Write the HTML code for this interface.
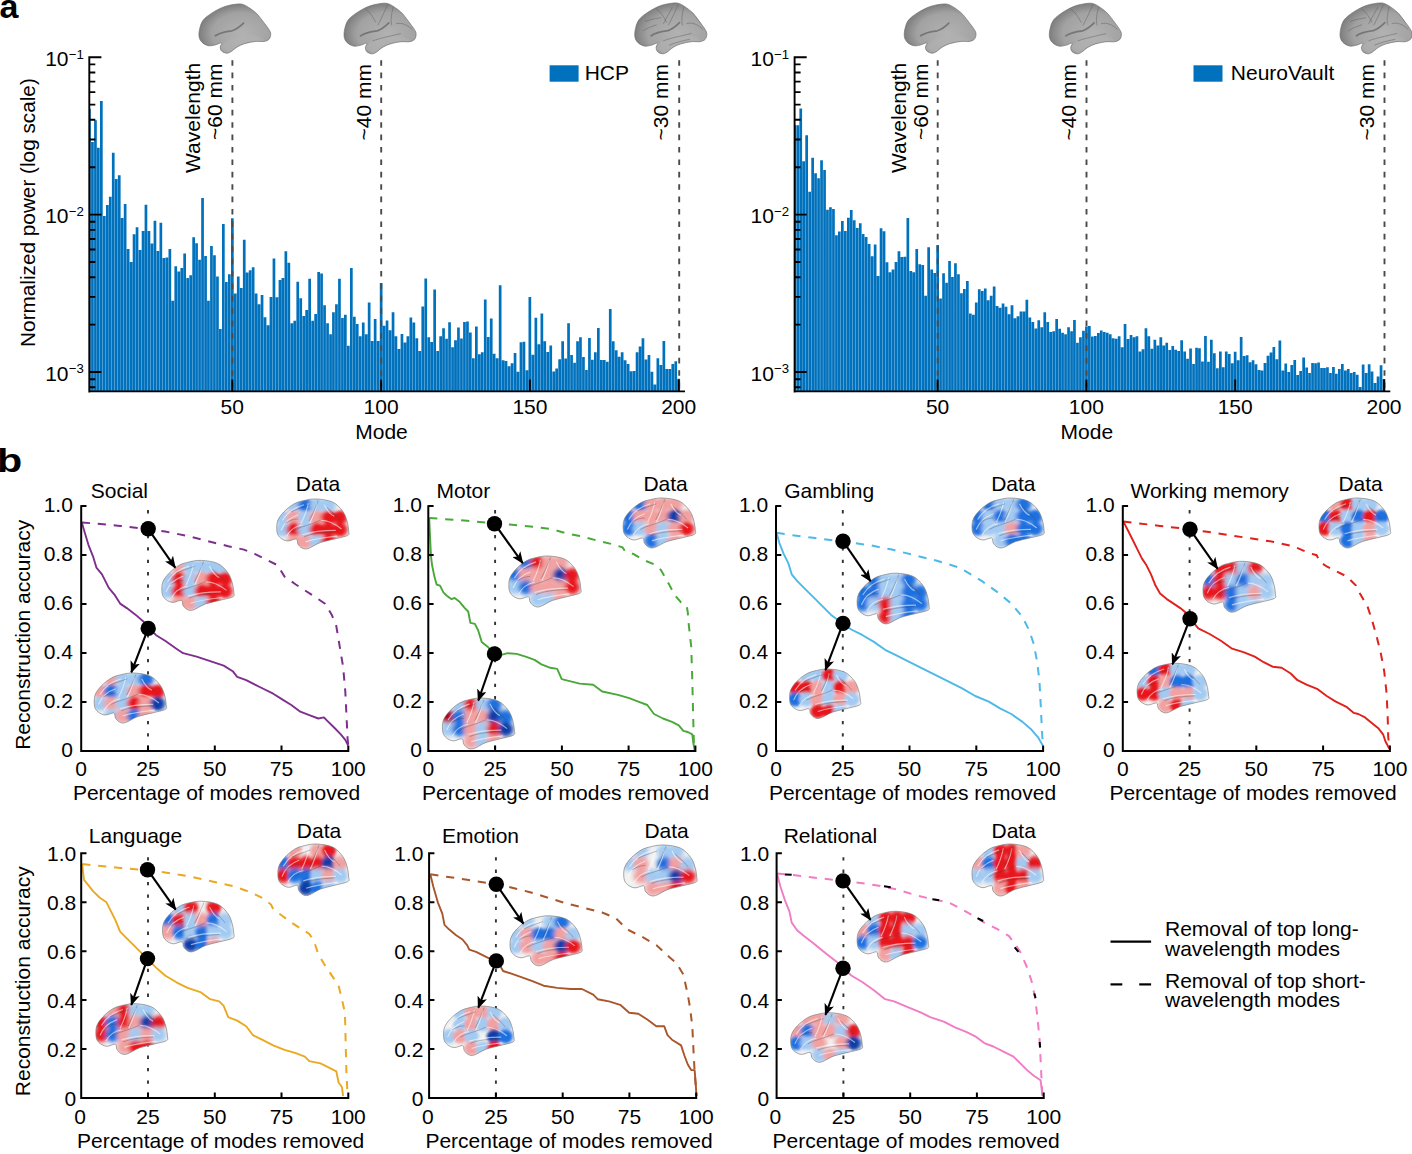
<!DOCTYPE html><html><head><meta charset="utf-8"><style>html,body{margin:0;padding:0;background:#fff;}svg{display:block;}</style></head><body>
<svg width="1412" height="1154" viewBox="0 0 1412 1154" font-family='"Liberation Sans", sans-serif'>
<defs>
<path id="brain" d="M51.2,0C55.9,-0.5 58.4,-1 62.9,1C67.5,3 74.3,8 78.5,11.8C82.7,15.6 85,19.4 88.3,23.7C91.5,28 96.1,34 98,37.5C99.9,41 99.7,42.3 99.5,44.4C99.3,46.5 98.6,48.8 97.1,50.3C95.5,51.8 93.3,52.7 90.2,53.2C87.1,53.7 82.9,52.7 78.5,53.2C74.1,53.7 68.1,54.9 63.9,56.2C59.7,57.5 56.5,59.1 53.2,61.1C50,63.1 46.9,66.5 44.4,68C41.9,69.5 40.6,70.2 38.5,70C36.4,69.8 33.1,68.5 31.7,67C30.2,65.5 29.8,63.1 29.8,61.1C29.8,59.1 32.9,55.7 31.7,55.2C30.5,54.7 26,57.5 22.9,58.2C19.8,58.9 16.3,59.9 13.2,59.2C10.1,58.5 6.5,56.4 4.4,54.2C2.3,52.1 1,49.6 0.5,46.3C0,43 0.5,38.4 1.5,34.5C2.5,30.6 3.5,26.3 6.3,22.7C9.1,19.1 13.3,15.9 18,12.8C22.7,9.7 29.1,6 34.6,3.9C40.1,1.8 46.5,0.5 51.2,0Z"/>
<clipPath id="bclip"><use href="#brain"/></clipPath>
<path id="brainc" d="M54.9,0C61.5,0.3 71.4,1.4 77.5,4.2C83.6,7 88.1,12.4 91.5,16.8C94.9,21.2 96.3,26.1 97.7,30.8C99.1,35.5 99.8,41.4 100,44.8C100.2,48.2 101.9,49.1 98.6,51C95.3,52.9 86.6,54.3 80.3,56C74,57.7 66.7,58.8 60.6,61C54.5,63.2 47.9,68.1 43.7,69.4C39.5,70.7 37.6,69.7 35.2,68.6C32.9,67.5 30.9,65.1 29.6,63C28.3,60.9 29.7,56.7 27.3,56C24.9,55.3 19.1,59 15.5,58.8C11.9,58.6 8.1,56.7 5.6,54.6C3.1,52.5 1.3,50.2 0.6,46.2C-0.1,42.2 -0.2,35.5 1.4,30.8C3,26.1 6.2,22.2 9.9,18.2C13.7,14.2 19.2,9.7 23.9,7C28.6,4.3 32.8,3.4 38,2.2C43.2,1 48.3,-0.3 54.9,0Z"/>
<clipPath id="bcclip"><use href="#brainc"/></clipPath>
<radialGradient id="gray" cx="0.6" cy="0.6" r="0.6"><stop offset="0" stop-color="#b2b2b2"/><stop offset="0.7" stop-color="#a2a2a2"/><stop offset="1" stop-color="#7e7e7e"/></radialGradient>
<filter id="blur" x="-10%" y="-10%" width="120%" height="120%"><feGaussianBlur stdDeviation="1.6"/></filter>
<filter id="blur2" x="-10%" y="-10%" width="120%" height="120%"><feGaussianBlur stdDeviation="2.6"/></filter>
<marker id="ah" viewBox="0 0 12 10" refX="11" refY="5" markerWidth="12" markerHeight="10" markerUnits="userSpaceOnUse" orient="auto"><path d="M0,0 L12,5 L0,10 L3,5 Z" fill="#000"/></marker>
</defs>
<rect width="1412" height="1154" fill="#fff"/>
<text x="-0.5" y="17.8" font-size="34" font-weight="bold">a</text>
<text transform="translate(-3.0,471.6) scale(1.25,1)" font-size="33" font-weight="bold">b</text>
<g transform="translate(0,0)"><path d="M89.3,108.8H90.8V391.4H89.3ZM91.1,141.9H93.8V391.4H91.1ZM94.1,120.2H96.8V391.4H94.1ZM97,147.8H99.7V391.4H97ZM100,101H102.7V391.4H100ZM103,215.9H105.7V391.4H103ZM106,205H108.7V391.4H106ZM108.9,196.7H111.6V391.4H108.9ZM111.9,152.8H114.6V391.4H111.9ZM114.9,178.9H117.6V391.4H114.9ZM117.9,175.3H120.6V391.4H117.9ZM120.8,218H123.5V391.4H120.8ZM123.8,204.1H126.5V391.4H123.8ZM126.8,249.1H129.5V391.4H126.8ZM129.8,262.1H132.5V391.4H129.8ZM132.7,234.3H135.4V391.4H132.7ZM135.7,227.2H138.4V391.4H135.7ZM138.7,250H141.4V391.4H138.7ZM141.7,231H144.4V391.4H141.7ZM144.6,204.7H147.3V391.4H144.6ZM147.6,231H150.3V391.4H147.6ZM150.6,243.5H153.3V391.4H150.6ZM153.6,220.7H156.3V391.4H153.6ZM156.6,250.9H159.2V391.4H156.6ZM159.5,222.7H162.2V391.4H159.5ZM162.5,258H165.2V391.4H162.5ZM165.5,257.4H168.2V391.4H165.5ZM168.5,249.1H171.2V391.4H168.5ZM171.4,300.7H174.1V391.4H171.4ZM174.4,266.3H177.1V391.4H174.4ZM177.4,271.6H180.1V391.4H177.4ZM180.4,268.1H183.1V391.4H180.4ZM183.3,253.6H186V391.4H183.3ZM186.3,278.1H189V391.4H186.3ZM189.3,275.2H192V391.4H189.3ZM192.3,237.3H195V391.4H192.3ZM195.2,243.2H197.9V391.4H195.2ZM198.2,259.8H200.9V391.4H198.2ZM201.2,198.1H203.9V391.4H201.2ZM204.2,256H206.9V391.4H204.2ZM207.1,300.8H209.8V391.4H207.1ZM210.1,246H212.8V391.4H210.1ZM213.1,255.2H215.8V391.4H213.1ZM216.1,276.5H218.8V391.4H216.1ZM219,329.1H221.7V391.4H219ZM222,223.9H224.7V391.4H222ZM225,282.1H227.7V391.4H225ZM228,274.3H230.7V391.4H228ZM231,218.3H233.7V391.4H231ZM233.9,293.5H236.6V391.4H233.9ZM236.9,276.5H239.6V391.4H236.9ZM239.9,288H242.6V391.4H239.9ZM242.9,239.7H245.6V391.4H242.9ZM245.8,272.5H248.5V391.4H245.8ZM248.8,270.3H251.5V391.4H248.8ZM251.8,267.2H254.5V391.4H251.8ZM254.8,293.5H257.5V391.4H254.8ZM257.7,304.2H260.4V391.4H257.7ZM260.7,294.9H263.4V391.4H260.7ZM263.7,317.3H266.4V391.4H263.7ZM266.7,325.2H269.4V391.4H266.7ZM269.6,296.9H272.3V391.4H269.6ZM272.6,258.4H275.3V391.4H272.6ZM275.6,297.2H278.3V391.4H275.6ZM278.6,279.9H281.3V391.4H278.6ZM281.5,278H284.2V391.4H281.5ZM284.5,251.2H287.2V391.4H284.5ZM287.5,262.8H290.2V391.4H287.5ZM290.5,323.2H293.2V391.4H290.5ZM293.4,320.7H296.1V391.4H293.4ZM296.4,281.7H299.1V391.4H296.4ZM299.4,298.2H302.1V391.4H299.4ZM302.4,315.9H305.1V391.4H302.4ZM305.3,310H308.1V391.4H305.3ZM308.3,278.7H311V391.4H308.3ZM311.3,320.7H314V391.4H311.3ZM314.3,314.1H317V391.4H314.3ZM317.3,272.1H320V391.4H317.3ZM320.2,273.6H322.9V391.4H320.2ZM323.2,305.2H325.9V391.4H323.2ZM326.2,323.2H328.9V391.4H326.2ZM329.2,334.2H331.9V391.4H329.2ZM332.1,312.2H334.8V391.4H332.1ZM335.1,304.3H337.8V391.4H335.1ZM338.1,278.7H340.8V391.4H338.1ZM341.1,317.9H343.8V391.4H341.1ZM344,314.8H346.7V391.4H344ZM347,345.7H349.7V391.4H347ZM350,268H352.7V391.4H350ZM353,316.7H355.7V391.4H353ZM355.9,324H358.6V391.4H355.9ZM358.9,336.2H361.6V391.4H358.9ZM361.9,322.6H364.6V391.4H361.9ZM364.9,334.2H367.6V391.4H364.9ZM367.8,302.4H370.5V391.4H367.8ZM370.8,341H373.5V391.4H370.8ZM373.8,319H376.5V391.4H373.8ZM376.8,341H379.5V391.4H376.8ZM379.8,282.9H382.5V391.4H379.8ZM382.7,325.8H385.4V391.4H382.7ZM385.7,320.4H388.4V391.4H385.7ZM388.7,330.2H391.4V391.4H388.7ZM391.7,312.2H394.4V391.4H391.7ZM394.6,336.2H397.3V391.4H394.6ZM397.6,349.1H400.3V391.4H397.6ZM400.6,333.9H403.3V391.4H400.6ZM403.6,342.6H406.3V391.4H403.6ZM406.5,336.2H409.2V391.4H406.5ZM409.5,317.6H412.2V391.4H409.5ZM412.5,322.6H415.2V391.4H412.5ZM415.5,338.2H418.2V391.4H415.5ZM418.4,351H421.1V391.4H418.4ZM421.4,306.6H424.1V391.4H421.4ZM424.4,278.4H427.1V391.4H424.4ZM427.4,337.3H430.1V391.4H427.4ZM430.3,342.1H433V391.4H430.3ZM433.3,289.6H436V391.4H433.3ZM436.3,351.1H439V391.4H436.3ZM439.3,336.2H442V391.4H439.3ZM442.2,328.3H444.9V391.4H442.2ZM445.2,338.8H447.9V391.4H445.2ZM448.2,322.3H450.9V391.4H448.2ZM451.2,347.3H453.9V391.4H451.2ZM454.1,340.3H456.9V391.4H454.1ZM457.1,327.6H459.8V391.4H457.1ZM460.1,338.4H462.8V391.4H460.1ZM463.1,322H465.8V391.4H463.1ZM466.1,321.6H468.8V391.4H466.1ZM469,332.6H471.7V391.4H469ZM472,358.2H474.7V391.4H472ZM475,326.6H477.7V391.4H475ZM478,354.2H480.7V391.4H478ZM480.9,352.3H483.6V391.4H480.9ZM483.9,299.6H486.6V391.4H483.9ZM486.9,337H489.6V391.4H486.9ZM489.9,318.6H492.6V391.4H489.9ZM492.8,353.7H495.5V391.4H492.8ZM495.8,358.2H498.5V391.4H495.8ZM498.8,285.2H501.5V391.4H498.8ZM501.8,360.2H504.5V391.4H501.8ZM504.7,361H507.4V391.4H504.7ZM507.7,366.2H510.4V391.4H507.7ZM510.7,363.2H513.4V391.4H510.7ZM513.7,352.9H516.4V391.4H513.7ZM516.6,371.7H519.3V391.4H516.6ZM519.6,342.3H522.3V391.4H519.6ZM522.6,341.8H525.3V391.4H522.6ZM525.6,370.2H528.3V391.4H525.6ZM528.5,296.9H531.2V391.4H528.5ZM531.5,354.7H534.2V391.4H531.5ZM534.5,317.7H537.2V391.4H534.5ZM537.5,344.3H540.2V391.4H537.5ZM540.5,313.6H543.2V391.4H540.5ZM543.4,341.3H546.1V391.4H543.4ZM546.4,352.1H549.1V391.4H546.4ZM549.4,345.5H552.1V391.4H549.4ZM552.4,371.4H555.1V391.4H552.4ZM555.3,368.4H558V391.4H555.3ZM558.3,359.2H561V391.4H558.3ZM561.3,341.2H564V391.4H561.3ZM564.3,358.6H567V391.4H564.3ZM567.2,323.2H569.9V391.4H567.2ZM570.2,355.1H572.9V391.4H570.2ZM573.2,362.7H575.9V391.4H573.2ZM576.2,341.2H578.9V391.4H576.2ZM579.1,337.2H581.8V391.4H579.1ZM582.1,357H584.8V391.4H582.1ZM585.1,370.1H587.8V391.4H585.1ZM588.1,338H590.8V391.4H588.1ZM591,359.8H593.7V391.4H591ZM594,352.2H596.7V391.4H594ZM597,328H599.7V391.4H597ZM600,360.1H602.7V391.4H600ZM602.9,360.1H605.6V391.4H602.9ZM605.9,361.8H608.6V391.4H605.9ZM608.9,309.1H611.6V391.4H608.9ZM611.9,341.2H614.6V391.4H611.9ZM614.9,350.3H617.6V391.4H614.9ZM617.8,356.7H620.5V391.4H617.8ZM620.8,352.2H623.5V391.4H620.8ZM623.8,360.3H626.5V391.4H623.8ZM626.8,363.9H629.5V391.4H626.8ZM629.7,371.3H632.4V391.4H629.7ZM632.7,371H635.4V391.4H632.7ZM635.7,352.2H638.4V391.4H635.7ZM638.7,346.5H641.4V391.4H638.7ZM641.6,338.3H644.3V391.4H641.6ZM644.6,359.6H647.3V391.4H644.6ZM647.6,355.1H650.3V391.4H647.6ZM650.6,371.7H653.3V391.4H650.6ZM653.5,384.4H656.2V391.4H653.5ZM656.5,358.2H659.2V391.4H656.5ZM659.5,365.1H662.2V391.4H659.5ZM662.5,341H665.2V391.4H662.5ZM665.4,369.1H668.1V391.4H665.4ZM668.4,369.1H671.1V391.4H668.4ZM671.4,363.9H674.1V391.4H671.4ZM674.4,361.2H677.1V391.4H674.4ZM677.4,378.7H680.1V391.4H677.4Z" fill="#0071bc"/><line x1="232.4" y1="60.2" x2="232.4" y2="391.4" stroke="#4a4a4a" stroke-width="1.9" stroke-dasharray="5.6 6.8"/><line x1="381.2" y1="60.2" x2="381.2" y2="391.4" stroke="#4a4a4a" stroke-width="1.9" stroke-dasharray="5.6 6.8"/><line x1="679.2" y1="60.2" x2="679.2" y2="391.4" stroke="#4a4a4a" stroke-width="1.9" stroke-dasharray="5.6 6.8"/><path d="M89.3,56.3V392.4M88.4,391.4H685M89.3,57.2H101.4M89.3,214.6H101.4M89.3,372H101.4M89.3,167.2H95.3M89.3,139.5H95.3M89.3,119.8H95.3M89.3,104.6H95.3M89.3,92.1H95.3M89.3,81.6H95.3M89.3,72.5H95.3M89.3,64.4H95.3M89.3,324.6H95.3M89.3,296.9H95.3M89.3,277.2H95.3M89.3,262H95.3M89.3,249.5H95.3M89.3,239H95.3M89.3,229.9H95.3M89.3,221.8H95.3M89.3,387.3H95.3M89.3,379.2H95.3M232.3,391.4V379.4M381.1,391.4V379.4M529.9,391.4V379.4M678.7,391.4V379.4" stroke="#000" stroke-width="1.9" fill="none"/><text x="45.2" y="65.8" font-size="21">10<tspan dx="0.2" dy="-7.2" font-size="13.2">−1</tspan></text><text x="45.2" y="223.2" font-size="21">10<tspan dx="0.2" dy="-7.2" font-size="13.2">−2</tspan></text><text x="45.2" y="380.6" font-size="21">10<tspan dx="0.2" dy="-7.2" font-size="13.2">−3</tspan></text><text x="232.3" y="413.8" font-size="21" text-anchor="middle">50</text><text x="381.1" y="413.8" font-size="21" text-anchor="middle">100</text><text x="529.9" y="413.8" font-size="21" text-anchor="middle">150</text><text x="678.7" y="413.8" font-size="21" text-anchor="middle">200</text><text x="381.5" y="438.7" font-size="21" text-anchor="middle">Mode</text><text transform="translate(200.2,62.8) rotate(-90)" font-size="21" text-anchor="end">Wavelength</text><text transform="translate(222.3,63.6) rotate(-90)" font-size="21" text-anchor="end">~60 mm</text><text transform="translate(370.8,64) rotate(-90)" font-size="21" text-anchor="end">~40 mm</text><text transform="translate(668.2,64) rotate(-90)" font-size="21" text-anchor="end">~30 mm</text><rect x="549.6" y="65.3" width="29" height="16.4" fill="#0071bc"/><text x="629" y="80" font-size="21" text-anchor="end">HCP</text><g transform="translate(198.7,4.2) scale(0.7230,0.7000)"><use href="#brain" fill="url(#gray)"/><g clip-path="url(#bclip)"><path d="M30,62 C36,50 50,46 64,44 C74,43 84,46 92,52 L80,60 C66,62 50,66 40,70 Z" fill="#b4b4b4" opacity="0.55" filter="url(#blur)"/><path d="M23,45 C30,40 38,39 46,38 C53,36 58,31 62,27" fill="none" stroke="#666" stroke-width="2.4" opacity="0.75" stroke-linecap="round"/></g><use href="#brain" fill="none" stroke="#6a6a6a" stroke-width="0.9"/></g><g transform="translate(343.8,3.5) scale(0.7260,0.7186)"><use href="#brain" fill="url(#gray)"/><g clip-path="url(#bclip)"><path d="M30,62 C36,50 50,46 64,44 C74,43 84,46 92,52 L80,60 C66,62 50,66 40,70 Z" fill="#b4b4b4" opacity="0.55" filter="url(#blur)"/><path d="M23,45 C30,40 38,39 46,38 C53,36 58,31 62,27" fill="none" stroke="#666" stroke-width="2.4" opacity="0.75" stroke-linecap="round"/><path d="M60,2 C56,12 52,20 47,30" fill="none" stroke="#666" stroke-width="1.3" opacity="0.55" stroke-linecap="round"/><path d="M68,5 C66,14 64,22 66,30" fill="none" stroke="#666" stroke-width="1.3" opacity="0.55" stroke-linecap="round"/><path d="M30,8 C36,12 40,18 44,26" fill="none" stroke="#666" stroke-width="1.3" opacity="0.55" stroke-linecap="round"/><path d="M72,28 C80,26 88,30 94,36" fill="none" stroke="#666" stroke-width="1.3" opacity="0.55" stroke-linecap="round"/><path d="M40,52 C50,48 62,46 78,42" fill="none" stroke="#666" stroke-width="1.3" opacity="0.55" stroke-linecap="round"/></g><use href="#brain" fill="none" stroke="#6a6a6a" stroke-width="0.9"/></g><g transform="translate(634.5,3.2) scale(0.7260,0.7229)"><use href="#brain" fill="url(#gray)"/><g clip-path="url(#bclip)"><path d="M30,62 C36,50 50,46 64,44 C74,43 84,46 92,52 L80,60 C66,62 50,66 40,70 Z" fill="#b4b4b4" opacity="0.55" filter="url(#blur)"/><path d="M23,45 C30,40 38,39 46,38 C53,36 58,31 62,27" fill="none" stroke="#666" stroke-width="2.4" opacity="0.75" stroke-linecap="round"/><path d="M60,2 C56,12 52,20 47,30" fill="none" stroke="#666" stroke-width="1.3" opacity="0.55" stroke-linecap="round"/><path d="M68,5 C66,14 64,22 66,30" fill="none" stroke="#666" stroke-width="1.3" opacity="0.55" stroke-linecap="round"/><path d="M30,8 C36,12 40,18 44,26" fill="none" stroke="#666" stroke-width="1.3" opacity="0.55" stroke-linecap="round"/><path d="M72,28 C80,26 88,30 94,36" fill="none" stroke="#666" stroke-width="1.3" opacity="0.55" stroke-linecap="round"/><path d="M40,52 C50,48 62,46 78,42" fill="none" stroke="#666" stroke-width="1.3" opacity="0.55" stroke-linecap="round"/><path d="M15,25 C22,22 28,22 36,20" fill="none" stroke="#666" stroke-width="1.3" opacity="0.55" stroke-linecap="round"/><path d="M12,38 C18,34 24,32 30,30" fill="none" stroke="#666" stroke-width="1.3" opacity="0.55" stroke-linecap="round"/><path d="M78,10 C82,16 86,20 90,26" fill="none" stroke="#666" stroke-width="1.3" opacity="0.55" stroke-linecap="round"/><path d="M48,58 C58,54 66,52 76,50" fill="none" stroke="#666" stroke-width="1.3" opacity="0.55" stroke-linecap="round"/><path d="M52,6 C48,14 44,20 40,28" fill="none" stroke="#666" stroke-width="1.3" opacity="0.55" stroke-linecap="round"/></g><use href="#brain" fill="none" stroke="#6a6a6a" stroke-width="0.9"/></g></g>
<g transform="translate(705.3,0)"><path d="M89.3,125H90.8V391.4H89.3ZM91.1,125.2H93.8V391.4H91.1ZM94.1,108.4H96.8V391.4H94.1ZM97,161.3H99.7V391.4H97ZM100,135.2H102.7V391.4H100ZM103,191.8H105.7V391.4H103ZM106,157.7H108.7V391.4H106ZM108.9,173.3H111.6V391.4H108.9ZM111.9,178.2H114.6V391.4H111.9ZM114.9,160.2H117.6V391.4H114.9ZM117.9,170.1H120.6V391.4H117.9ZM120.8,209.7H123.5V391.4H120.8ZM123.8,207.3H126.5V391.4H123.8ZM126.8,209H129.5V391.4H126.8ZM129.8,235.3H132.5V391.4H129.8ZM132.7,231.6H135.4V391.4H132.7ZM135.7,220.9H138.4V391.4H135.7ZM138.7,230.9H141.4V391.4H138.7ZM141.7,217.7H144.4V391.4H141.7ZM144.6,210.1H147.3V391.4H144.6ZM147.6,220.2H150.3V391.4H147.6ZM150.6,228.1H153.3V391.4H150.6ZM153.6,223.2H156.3V391.4H153.6ZM156.6,234.1H159.2V391.4H156.6ZM159.5,237.1H162.2V391.4H159.5ZM162.5,244.1H165.2V391.4H162.5ZM165.5,256.2H168.2V391.4H165.5ZM168.5,244.5H171.2V391.4H168.5ZM171.4,276H174.1V391.4H171.4ZM174.4,228.2H177.1V391.4H174.4ZM177.4,231.3H180.1V391.4H177.4ZM180.4,262.2H183.1V391.4H180.4ZM183.3,272.2H186V391.4H183.3ZM186.3,269.5H189V391.4H186.3ZM189.3,262H192V391.4H189.3ZM192.3,251.3H195V391.4H192.3ZM195.2,257.1H197.9V391.4H195.2ZM198.2,256.8H200.9V391.4H198.2ZM201.2,218.1H203.9V391.4H201.2ZM204.2,271.1H206.9V391.4H204.2ZM207.1,272.2H209.8V391.4H207.1ZM210.1,249H212.8V391.4H210.1ZM213.1,264.3H215.8V391.4H213.1ZM216.1,265.1H218.8V391.4H216.1ZM219,295.8H221.7V391.4H219ZM222,247.2H224.7V391.4H222ZM225,269.5H227.7V391.4H225ZM228,272.9H230.7V391.4H228ZM231,245.1H233.7V391.4H231ZM233.9,298.6H236.6V391.4H233.9ZM236.9,273.2H239.6V391.4H236.9ZM239.9,282.8H242.6V391.4H239.9ZM242.9,261.1H245.6V391.4H242.9ZM245.8,277H248.5V391.4H245.8ZM248.8,263.2H251.5V391.4H248.8ZM251.8,274.2H254.5V391.4H251.8ZM254.8,293.2H257.5V391.4H254.8ZM257.7,289H260.4V391.4H257.7ZM260.7,280.9H263.4V391.4H260.7ZM263.7,313.4H266.4V391.4H263.7ZM266.7,314.7H269.4V391.4H266.7ZM269.6,302.6H272.3V391.4H269.6ZM272.6,289.3H275.3V391.4H272.6ZM275.6,291H278.3V391.4H275.6ZM278.6,288.4H281.3V391.4H278.6ZM281.5,300.2H284.2V391.4H281.5ZM284.5,295.8H287.2V391.4H284.5ZM287.5,286.6H290.2V391.4H287.5ZM290.5,306H293.2V391.4H290.5ZM293.4,307.8H296.1V391.4H293.4ZM296.4,303.4H299.1V391.4H296.4ZM299.4,306.7H302.1V391.4H299.4ZM302.4,314.3H305.1V391.4H302.4ZM305.3,305.3H308.1V391.4H305.3ZM308.3,318.3H311V391.4H308.3ZM311.3,316.2H314V391.4H311.3ZM314.3,311.6H317V391.4H314.3ZM317.3,311.4H320V391.4H317.3ZM320.2,299.8H322.9V391.4H320.2ZM323.2,317.4H325.9V391.4H323.2ZM326.2,322.1H328.9V391.4H326.2ZM329.2,328.4H331.9V391.4H329.2ZM332.1,320.3H334.8V391.4H332.1ZM335.1,327.2H337.8V391.4H335.1ZM338.1,312.3H340.8V391.4H338.1ZM341.1,322.1H343.8V391.4H341.1ZM344,332.1H346.7V391.4H344ZM347,331.2H349.7V391.4H347ZM350,319H352.7V391.4H350ZM353,328.7H355.7V391.4H353ZM355.9,332.8H358.6V391.4H355.9ZM358.9,334.3H361.6V391.4H358.9ZM361.9,327.2H364.6V391.4H361.9ZM364.9,331.2H367.6V391.4H364.9ZM367.8,320H370.5V391.4H367.8ZM370.8,342.8H373.5V391.4H370.8ZM373.8,337.3H376.5V391.4H373.8ZM376.8,330.8H379.5V391.4H376.8ZM379.8,326.6H382.5V391.4H379.8ZM382.7,325.9H385.4V391.4H382.7ZM385.7,336.4H388.4V391.4H385.7ZM388.7,336.1H391.4V391.4H388.7ZM391.7,333.1H394.4V391.4H391.7ZM394.6,330.6H397.3V391.4H394.6ZM397.6,332H400.3V391.4H397.6ZM400.6,332.8H403.3V391.4H400.6ZM403.6,334.2H406.3V391.4H403.6ZM406.5,338.3H409.2V391.4H406.5ZM409.5,338.8H412.2V391.4H409.5ZM412.5,336.3H415.2V391.4H412.5ZM415.5,347.3H418.2V391.4H415.5ZM418.4,324.1H421.1V391.4H418.4ZM421.4,339H424.1V391.4H421.4ZM424.4,335H427.1V391.4H424.4ZM427.4,337.2H430.1V391.4H427.4ZM430.3,336.3H433V391.4H430.3ZM433.3,351.4H436V391.4H433.3ZM436.3,349.2H439V391.4H436.3ZM439.3,328.2H442V391.4H439.3ZM442.2,336.3H444.9V391.4H442.2ZM445.2,348.8H447.9V391.4H445.2ZM448.2,339.7H450.9V391.4H448.2ZM451.2,345.4H453.9V391.4H451.2ZM454.1,337.2H456.9V391.4H454.1ZM457.1,345.4H459.8V391.4H457.1ZM460.1,342.8H462.8V391.4H460.1ZM463.1,350H465.8V391.4H463.1ZM466.1,346.1H468.8V391.4H466.1ZM469,349.7H471.7V391.4H469ZM472,351.1H474.7V391.4H472ZM475,340.2H477.7V391.4H475ZM478,351.4H480.7V391.4H478ZM480.9,358.8H483.6V391.4H480.9ZM483.9,348.6H486.6V391.4H483.9ZM486.9,363.9H489.6V391.4H486.9ZM489.9,347.8H492.6V391.4H489.9ZM492.8,348.3H495.5V391.4H492.8ZM495.8,361.5H498.5V391.4H495.8ZM498.8,335.9H501.5V391.4H498.8ZM501.8,361.7H504.5V391.4H501.8ZM504.7,339.7H507.4V391.4H504.7ZM507.7,353.2H510.4V391.4H507.7ZM510.7,368.3H513.4V391.4H510.7ZM513.7,351.4H516.4V391.4H513.7ZM516.6,367.2H519.3V391.4H516.6ZM519.6,351.4H522.3V391.4H519.6ZM522.6,354.1H525.3V391.4H522.6ZM525.6,363.3H528.3V391.4H525.6ZM528.5,351.7H531.2V391.4H528.5ZM531.5,360.3H534.2V391.4H531.5ZM534.5,337H537.2V391.4H534.5ZM537.5,356.1H540.2V391.4H537.5ZM540.5,355.2H543.2V391.4H540.5ZM543.4,362.2H546.1V391.4H543.4ZM546.4,360.3H549.1V391.4H546.4ZM549.4,364.2H552.1V391.4H549.4ZM552.4,370H555.1V391.4H552.4ZM555.3,370.4H558V391.4H555.3ZM558.3,363.1H561V391.4H558.3ZM561.3,355.8H564V391.4H561.3ZM564.3,352.4H567V391.4H564.3ZM567.2,346.9H569.9V391.4H567.2ZM570.2,359.2H572.9V391.4H570.2ZM573.2,340.5H575.9V391.4H573.2ZM576.2,370.4H578.9V391.4H576.2ZM579.1,363.6H581.8V391.4H579.1ZM582.1,372H584.8V391.4H582.1ZM585.1,365.1H587.8V391.4H585.1ZM588.1,360.1H590.8V391.4H588.1ZM591,375.1H593.7V391.4H591ZM594,370.9H596.7V391.4H594ZM597,357.5H599.7V391.4H597ZM600,367.6H602.7V391.4H600ZM602.9,373.1H605.6V391.4H602.9ZM605.9,362.9H608.6V391.4H605.9ZM608.9,363.3H611.6V391.4H608.9ZM611.9,362.5H614.6V391.4H611.9ZM614.9,368.1H617.6V391.4H614.9ZM617.8,368.1H620.5V391.4H617.8ZM620.8,367.3H623.5V391.4H620.8ZM623.8,372.9H626.5V391.4H623.8ZM626.8,367H629.5V391.4H626.8ZM629.7,373.7H632.4V391.4H629.7ZM632.7,369H635.4V391.4H632.7ZM635.7,364H638.4V391.4H635.7ZM638.7,370.4H641.4V391.4H638.7ZM641.6,368.9H644.3V391.4H641.6ZM644.6,372.9H647.3V391.4H644.6ZM647.6,372H650.3V391.4H647.6ZM650.6,374.8H653.3V391.4H650.6ZM653.5,386.9H656.2V391.4H653.5ZM656.5,364.5H659.2V391.4H656.5ZM659.5,372.9H662.2V391.4H659.5ZM662.5,364.2H665.2V391.4H662.5ZM665.4,371.5H668.1V391.4H665.4ZM668.4,383H671.1V391.4H668.4ZM671.4,376.5H674.1V391.4H671.4ZM674.4,365.3H677.1V391.4H674.4ZM677.4,379H680.1V391.4H677.4Z" fill="#0071bc"/><line x1="232.4" y1="60.2" x2="232.4" y2="391.4" stroke="#4a4a4a" stroke-width="1.9" stroke-dasharray="5.6 6.8"/><line x1="381.2" y1="60.2" x2="381.2" y2="391.4" stroke="#4a4a4a" stroke-width="1.9" stroke-dasharray="5.6 6.8"/><line x1="679.2" y1="60.2" x2="679.2" y2="391.4" stroke="#4a4a4a" stroke-width="1.9" stroke-dasharray="5.6 6.8"/><path d="M89.3,56.3V392.4M88.4,391.4H685M89.3,57.2H101.4M89.3,214.6H101.4M89.3,372H101.4M89.3,167.2H95.3M89.3,139.5H95.3M89.3,119.8H95.3M89.3,104.6H95.3M89.3,92.1H95.3M89.3,81.6H95.3M89.3,72.5H95.3M89.3,64.4H95.3M89.3,324.6H95.3M89.3,296.9H95.3M89.3,277.2H95.3M89.3,262H95.3M89.3,249.5H95.3M89.3,239H95.3M89.3,229.9H95.3M89.3,221.8H95.3M89.3,387.3H95.3M89.3,379.2H95.3M232.3,391.4V379.4M381.1,391.4V379.4M529.9,391.4V379.4M678.7,391.4V379.4" stroke="#000" stroke-width="1.9" fill="none"/><text x="45.2" y="65.8" font-size="21">10<tspan dx="0.2" dy="-7.2" font-size="13.2">−1</tspan></text><text x="45.2" y="223.2" font-size="21">10<tspan dx="0.2" dy="-7.2" font-size="13.2">−2</tspan></text><text x="45.2" y="380.6" font-size="21">10<tspan dx="0.2" dy="-7.2" font-size="13.2">−3</tspan></text><text x="232.3" y="413.8" font-size="21" text-anchor="middle">50</text><text x="381.1" y="413.8" font-size="21" text-anchor="middle">100</text><text x="529.9" y="413.8" font-size="21" text-anchor="middle">150</text><text x="678.7" y="413.8" font-size="21" text-anchor="middle">200</text><text x="381.5" y="438.7" font-size="21" text-anchor="middle">Mode</text><text transform="translate(200.2,62.8) rotate(-90)" font-size="21" text-anchor="end">Wavelength</text><text transform="translate(222.3,63.6) rotate(-90)" font-size="21" text-anchor="end">~60 mm</text><text transform="translate(370.8,64) rotate(-90)" font-size="21" text-anchor="end">~40 mm</text><text transform="translate(668.2,64) rotate(-90)" font-size="21" text-anchor="end">~30 mm</text><rect x="488.2" y="65.3" width="29" height="16.4" fill="#0071bc"/><text x="629" y="80" font-size="21" text-anchor="end">NeuroVault</text><g transform="translate(198.7,4.2) scale(0.7230,0.7000)"><use href="#brain" fill="url(#gray)"/><g clip-path="url(#bclip)"><path d="M30,62 C36,50 50,46 64,44 C74,43 84,46 92,52 L80,60 C66,62 50,66 40,70 Z" fill="#b4b4b4" opacity="0.55" filter="url(#blur)"/><path d="M23,45 C30,40 38,39 46,38 C53,36 58,31 62,27" fill="none" stroke="#666" stroke-width="2.4" opacity="0.75" stroke-linecap="round"/></g><use href="#brain" fill="none" stroke="#6a6a6a" stroke-width="0.9"/></g><g transform="translate(343.8,3.5) scale(0.7260,0.7186)"><use href="#brain" fill="url(#gray)"/><g clip-path="url(#bclip)"><path d="M30,62 C36,50 50,46 64,44 C74,43 84,46 92,52 L80,60 C66,62 50,66 40,70 Z" fill="#b4b4b4" opacity="0.55" filter="url(#blur)"/><path d="M23,45 C30,40 38,39 46,38 C53,36 58,31 62,27" fill="none" stroke="#666" stroke-width="2.4" opacity="0.75" stroke-linecap="round"/><path d="M60,2 C56,12 52,20 47,30" fill="none" stroke="#666" stroke-width="1.3" opacity="0.55" stroke-linecap="round"/><path d="M68,5 C66,14 64,22 66,30" fill="none" stroke="#666" stroke-width="1.3" opacity="0.55" stroke-linecap="round"/><path d="M30,8 C36,12 40,18 44,26" fill="none" stroke="#666" stroke-width="1.3" opacity="0.55" stroke-linecap="round"/><path d="M72,28 C80,26 88,30 94,36" fill="none" stroke="#666" stroke-width="1.3" opacity="0.55" stroke-linecap="round"/><path d="M40,52 C50,48 62,46 78,42" fill="none" stroke="#666" stroke-width="1.3" opacity="0.55" stroke-linecap="round"/></g><use href="#brain" fill="none" stroke="#6a6a6a" stroke-width="0.9"/></g><g transform="translate(634.5,3.2) scale(0.7260,0.7229)"><use href="#brain" fill="url(#gray)"/><g clip-path="url(#bclip)"><path d="M30,62 C36,50 50,46 64,44 C74,43 84,46 92,52 L80,60 C66,62 50,66 40,70 Z" fill="#b4b4b4" opacity="0.55" filter="url(#blur)"/><path d="M23,45 C30,40 38,39 46,38 C53,36 58,31 62,27" fill="none" stroke="#666" stroke-width="2.4" opacity="0.75" stroke-linecap="round"/><path d="M60,2 C56,12 52,20 47,30" fill="none" stroke="#666" stroke-width="1.3" opacity="0.55" stroke-linecap="round"/><path d="M68,5 C66,14 64,22 66,30" fill="none" stroke="#666" stroke-width="1.3" opacity="0.55" stroke-linecap="round"/><path d="M30,8 C36,12 40,18 44,26" fill="none" stroke="#666" stroke-width="1.3" opacity="0.55" stroke-linecap="round"/><path d="M72,28 C80,26 88,30 94,36" fill="none" stroke="#666" stroke-width="1.3" opacity="0.55" stroke-linecap="round"/><path d="M40,52 C50,48 62,46 78,42" fill="none" stroke="#666" stroke-width="1.3" opacity="0.55" stroke-linecap="round"/><path d="M15,25 C22,22 28,22 36,20" fill="none" stroke="#666" stroke-width="1.3" opacity="0.55" stroke-linecap="round"/><path d="M12,38 C18,34 24,32 30,30" fill="none" stroke="#666" stroke-width="1.3" opacity="0.55" stroke-linecap="round"/><path d="M78,10 C82,16 86,20 90,26" fill="none" stroke="#666" stroke-width="1.3" opacity="0.55" stroke-linecap="round"/><path d="M48,58 C58,54 66,52 76,50" fill="none" stroke="#666" stroke-width="1.3" opacity="0.55" stroke-linecap="round"/><path d="M52,6 C48,14 44,20 40,28" fill="none" stroke="#666" stroke-width="1.3" opacity="0.55" stroke-linecap="round"/></g><use href="#brain" fill="none" stroke="#6a6a6a" stroke-width="0.9"/></g></g>
<text transform="translate(34.5,346.9) rotate(-90)" font-size="20.75">Normalized power (log scale)</text>
<line x1="148" y1="510.1" x2="148" y2="751.1" stroke="#333" stroke-width="1.9" stroke-dasharray="3.3 9.1"/><g transform="translate(276.6,499) scale(0.7210,0.7143)"><g clip-path="url(#bcclip)"><rect x="-5" y="-5" width="110" height="80" fill="#f2f2f2"/><g filter="url(#blur2)"><ellipse cx="24" cy="9" rx="10.5" ry="10" fill="#a2caf2"/><ellipse cx="40" cy="9" rx="10.5" ry="10" fill="#1c6fe0"/><ellipse cx="56" cy="9" rx="10.5" ry="10" fill="#a2caf2"/><ellipse cx="72" cy="9" rx="10.5" ry="10" fill="#a2caf2"/><ellipse cx="8" cy="26" rx="10.5" ry="10" fill="#a2caf2"/><ellipse cx="24" cy="26" rx="10.5" ry="10" fill="#f2a0a0"/><ellipse cx="40" cy="26" rx="10.5" ry="10" fill="#a2caf2"/><ellipse cx="56" cy="26" rx="10.5" ry="10" fill="#f2a0a0"/><ellipse cx="72" cy="26" rx="10.5" ry="10" fill="#e8141e"/><ellipse cx="88" cy="26" rx="10.5" ry="10" fill="#e8141e"/><ellipse cx="8" cy="43" rx="10.5" ry="10" fill="#a2caf2"/><ellipse cx="24" cy="43" rx="10.5" ry="10" fill="#e8141e"/><ellipse cx="40" cy="43" rx="10.5" ry="10" fill="#a2caf2"/><ellipse cx="56" cy="43" rx="10.5" ry="10" fill="#e8141e"/><ellipse cx="72" cy="43" rx="10.5" ry="10" fill="#e8141e"/><ellipse cx="88" cy="43" rx="10.5" ry="10" fill="#e8141e"/><ellipse cx="24" cy="60" rx="10.5" ry="10" fill="#f2a0a0"/><ellipse cx="40" cy="60" rx="10.5" ry="10" fill="#f2a0a0"/><ellipse cx="56" cy="60" rx="10.5" ry="10" fill="#a2caf2"/><ellipse cx="72" cy="60" rx="10.5" ry="10" fill="#e8141e"/></g><path d="M8,30 C14,20 24,12 38,8" fill="none" stroke="#fff" stroke-width="1.6" opacity="0.55"/><path d="M6,44 C10,34 18,26 30,22" fill="none" stroke="#fff" stroke-width="1.6" opacity="0.55"/><path d="M14,52 C18,44 26,38 36,36" fill="none" stroke="#fff" stroke-width="1.6" opacity="0.55"/><path d="M44,6 C42,16 38,26 34,34" fill="none" stroke="#fff" stroke-width="1.6" opacity="0.55"/><path d="M56,6 C54,16 50,26 46,34" fill="none" stroke="#fff" stroke-width="1.6" opacity="0.55"/><path d="M66,8 C70,16 74,22 80,24" fill="none" stroke="#fff" stroke-width="1.6" opacity="0.55"/><path d="M62,30 C70,30 80,34 90,42" fill="none" stroke="#fff" stroke-width="1.6" opacity="0.55"/><path d="M36,50 C48,46 62,44 82,44" fill="none" stroke="#fff" stroke-width="1.6" opacity="0.55"/><path d="M40,60 C52,56 66,54 84,52" fill="none" stroke="#fff" stroke-width="1.6" opacity="0.55"/><path d="M24,44 C34,38 46,37 60,30" fill="none" stroke="#444" stroke-width="0.9" opacity="0.5"/><path d="M58,2 C54,12 50,22 45,31" fill="none" stroke="#444" stroke-width="0.9" opacity="0.5"/><path d="M38,53 C50,48 62,47 80,46" fill="none" stroke="#444" stroke-width="0.9" opacity="0.5"/><path d="M20,18 C28,14 36,12 46,8" fill="none" stroke="#444" stroke-width="0.9" opacity="0.5"/><path d="M70,12 C76,18 82,22 88,30" fill="none" stroke="#444" stroke-width="0.9" opacity="0.5"/><path d="M12,34 C18,30 24,28 30,28" fill="none" stroke="#444" stroke-width="0.9" opacity="0.5"/></g><use href="#brainc" fill="none" stroke="#777" stroke-width="0.9"/></g><g transform="translate(161.7,560.4) scale(0.7210,0.7143)"><g clip-path="url(#bcclip)"><rect x="-5" y="-5" width="110" height="80" fill="#f2f2f2"/><g filter="url(#blur2)"><ellipse cx="24" cy="9" rx="10.5" ry="10" fill="#f2a0a0"/><ellipse cx="40" cy="9" rx="10.5" ry="10" fill="#a2caf2"/><ellipse cx="56" cy="9" rx="10.5" ry="10" fill="#a2caf2"/><ellipse cx="72" cy="9" rx="10.5" ry="10" fill="#a2caf2"/><ellipse cx="88" cy="9" rx="10.5" ry="10" fill="#a2caf2"/><ellipse cx="8" cy="26" rx="10.5" ry="10" fill="#a2caf2"/><ellipse cx="24" cy="26" rx="10.5" ry="10" fill="#e8141e"/><ellipse cx="40" cy="26" rx="10.5" ry="10" fill="#a2caf2"/><ellipse cx="56" cy="26" rx="10.5" ry="10" fill="#f2a0a0"/><ellipse cx="72" cy="26" rx="10.5" ry="10" fill="#e8141e"/><ellipse cx="88" cy="26" rx="10.5" ry="10" fill="#e8141e"/><ellipse cx="8" cy="43" rx="10.5" ry="10" fill="#a2caf2"/><ellipse cx="24" cy="43" rx="10.5" ry="10" fill="#e8141e"/><ellipse cx="40" cy="43" rx="10.5" ry="10" fill="#a2caf2"/><ellipse cx="56" cy="43" rx="10.5" ry="10" fill="#e8141e"/><ellipse cx="72" cy="43" rx="10.5" ry="10" fill="#e8141e"/><ellipse cx="88" cy="43" rx="10.5" ry="10" fill="#e8141e"/><ellipse cx="24" cy="60" rx="10.5" ry="10" fill="#f2a0a0"/><ellipse cx="40" cy="60" rx="10.5" ry="10" fill="#f2a0a0"/><ellipse cx="56" cy="60" rx="10.5" ry="10" fill="#a2caf2"/><ellipse cx="72" cy="60" rx="10.5" ry="10" fill="#e8141e"/></g><path d="M8,30 C14,20 24,12 38,8" fill="none" stroke="#fff" stroke-width="1.6" opacity="0.55"/><path d="M6,44 C10,34 18,26 30,22" fill="none" stroke="#fff" stroke-width="1.6" opacity="0.55"/><path d="M14,52 C18,44 26,38 36,36" fill="none" stroke="#fff" stroke-width="1.6" opacity="0.55"/><path d="M44,6 C42,16 38,26 34,34" fill="none" stroke="#fff" stroke-width="1.6" opacity="0.55"/><path d="M56,6 C54,16 50,26 46,34" fill="none" stroke="#fff" stroke-width="1.6" opacity="0.55"/><path d="M66,8 C70,16 74,22 80,24" fill="none" stroke="#fff" stroke-width="1.6" opacity="0.55"/><path d="M62,30 C70,30 80,34 90,42" fill="none" stroke="#fff" stroke-width="1.6" opacity="0.55"/><path d="M36,50 C48,46 62,44 82,44" fill="none" stroke="#fff" stroke-width="1.6" opacity="0.55"/><path d="M40,60 C52,56 66,54 84,52" fill="none" stroke="#fff" stroke-width="1.6" opacity="0.55"/><path d="M24,44 C34,38 46,37 60,30" fill="none" stroke="#444" stroke-width="0.9" opacity="0.5"/><path d="M58,2 C54,12 50,22 45,31" fill="none" stroke="#444" stroke-width="0.9" opacity="0.5"/><path d="M38,53 C50,48 62,47 80,46" fill="none" stroke="#444" stroke-width="0.9" opacity="0.5"/><path d="M20,18 C28,14 36,12 46,8" fill="none" stroke="#444" stroke-width="0.9" opacity="0.5"/><path d="M70,12 C76,18 82,22 88,30" fill="none" stroke="#444" stroke-width="0.9" opacity="0.5"/><path d="M12,34 C18,30 24,28 30,28" fill="none" stroke="#444" stroke-width="0.9" opacity="0.5"/></g><use href="#brainc" fill="none" stroke="#777" stroke-width="0.9"/></g><g transform="translate(94.1,673) scale(0.7210,0.7143)"><g clip-path="url(#bcclip)"><rect x="-5" y="-5" width="110" height="80" fill="#f2f2f2"/><g filter="url(#blur2)"><ellipse cx="24" cy="9" rx="10.5" ry="10" fill="#f2a0a0"/><ellipse cx="40" cy="9" rx="10.5" ry="10" fill="#a2caf2"/><ellipse cx="56" cy="9" rx="10.5" ry="10" fill="#a2caf2"/><ellipse cx="72" cy="9" rx="10.5" ry="10" fill="#1c6fe0"/><ellipse cx="8" cy="26" rx="10.5" ry="10" fill="#f2a0a0"/><ellipse cx="24" cy="26" rx="10.5" ry="10" fill="#1c6fe0"/><ellipse cx="40" cy="26" rx="10.5" ry="10" fill="#a2caf2"/><ellipse cx="56" cy="26" rx="10.5" ry="10" fill="#f2a0a0"/><ellipse cx="72" cy="26" rx="10.5" ry="10" fill="#e8141e"/><ellipse cx="88" cy="26" rx="10.5" ry="10" fill="#e8141e"/><ellipse cx="8" cy="43" rx="10.5" ry="10" fill="#a2caf2"/><ellipse cx="24" cy="43" rx="10.5" ry="10" fill="#f2a0a0"/><ellipse cx="40" cy="43" rx="10.5" ry="10" fill="#a2caf2"/><ellipse cx="56" cy="43" rx="10.5" ry="10" fill="#e8141e"/><ellipse cx="72" cy="43" rx="10.5" ry="10" fill="#f2a0a0"/><ellipse cx="88" cy="43" rx="10.5" ry="10" fill="#0a3ea8"/><ellipse cx="24" cy="60" rx="10.5" ry="10" fill="#a2caf2"/><ellipse cx="40" cy="60" rx="10.5" ry="10" fill="#f2a0a0"/><ellipse cx="56" cy="60" rx="10.5" ry="10" fill="#1c6fe0"/><ellipse cx="72" cy="60" rx="10.5" ry="10" fill="#f2a0a0"/></g><path d="M8,30 C14,20 24,12 38,8" fill="none" stroke="#fff" stroke-width="1.6" opacity="0.55"/><path d="M6,44 C10,34 18,26 30,22" fill="none" stroke="#fff" stroke-width="1.6" opacity="0.55"/><path d="M14,52 C18,44 26,38 36,36" fill="none" stroke="#fff" stroke-width="1.6" opacity="0.55"/><path d="M44,6 C42,16 38,26 34,34" fill="none" stroke="#fff" stroke-width="1.6" opacity="0.55"/><path d="M56,6 C54,16 50,26 46,34" fill="none" stroke="#fff" stroke-width="1.6" opacity="0.55"/><path d="M66,8 C70,16 74,22 80,24" fill="none" stroke="#fff" stroke-width="1.6" opacity="0.55"/><path d="M62,30 C70,30 80,34 90,42" fill="none" stroke="#fff" stroke-width="1.6" opacity="0.55"/><path d="M36,50 C48,46 62,44 82,44" fill="none" stroke="#fff" stroke-width="1.6" opacity="0.55"/><path d="M40,60 C52,56 66,54 84,52" fill="none" stroke="#fff" stroke-width="1.6" opacity="0.55"/><path d="M24,44 C34,38 46,37 60,30" fill="none" stroke="#444" stroke-width="0.9" opacity="0.5"/><path d="M58,2 C54,12 50,22 45,31" fill="none" stroke="#444" stroke-width="0.9" opacity="0.5"/><path d="M38,53 C50,48 62,47 80,46" fill="none" stroke="#444" stroke-width="0.9" opacity="0.5"/><path d="M20,18 C28,14 36,12 46,8" fill="none" stroke="#444" stroke-width="0.9" opacity="0.5"/><path d="M70,12 C76,18 82,22 88,30" fill="none" stroke="#444" stroke-width="0.9" opacity="0.5"/><path d="M12,34 C18,30 24,28 30,28" fill="none" stroke="#444" stroke-width="0.9" opacity="0.5"/></g><use href="#brainc" fill="none" stroke="#777" stroke-width="0.9"/></g><polyline points="81.8,522.5 85.1,533.8 88.5,545.1 93,556.3 96.4,567.6 102,574.3 105.4,581.1 108.8,587.9 114.4,594.6 120.1,603.6 126.8,608.1 135.8,614.9 144.8,622.8 149.3,628.4 156.1,635.2 165.1,640.8 176.4,648.7 183.1,653.2 196.6,656.6 210.2,661.1 223.7,665.6 232.7,671.2 237.2,676.8 246.2,680.2 259.7,687 273.2,693.7 282.2,699.4 291.3,705 300.3,711.7 309.3,715.1 318.3,718.5 323.9,717.4 327.3,720.8 334.1,727.5 340.8,734.3 345.3,739.9 348.2,745.5" fill="none" stroke="#7e2f8e" stroke-width="1.9" stroke-linejoin="round"/><polyline points="81.8,522.5 97.5,523.7 120.1,525.9 140.3,528.2 165.1,531.5 187.6,536 210.2,541.7 228.2,546.2 243.9,549.6 255.2,554.1 266.5,559.7 277.7,565.3 284.5,576.6 295.8,584.5 311.5,594.6 325,603.6 331.8,614.9 336.3,626.1 339.7,646.4 343.1,666.7 345.3,691.5 346.4,714 347.6,738.8 348.2,745.5" fill="none" stroke="#7e2f8e" stroke-width="2" stroke-dasharray="8.2 7.8"/><path d="M81.2,505.2V752.1M80.2,751.1H349.3M81.2,751.1H86.5M81.2,702.1H86.5M81.2,653.1H86.5M81.2,604.1H86.5M81.2,555.1H86.5M81.2,506.1H86.5M81.2,751.1V745.6M148,751.1V745.6M214.8,751.1V745.6M281.5,751.1V745.6M348.3,751.1V745.6" stroke="#000" stroke-width="2" fill="none"/><text x="72.9" y="757.2" font-size="21" text-anchor="end">0</text><text x="72.9" y="708.2" font-size="21" text-anchor="end">0.2</text><text x="72.9" y="659.2" font-size="21" text-anchor="end">0.4</text><text x="72.9" y="610.2" font-size="21" text-anchor="end">0.6</text><text x="72.9" y="561.2" font-size="21" text-anchor="end">0.8</text><text x="72.9" y="512.2" font-size="21" text-anchor="end">1.0</text><text x="81.2" y="775.9" font-size="21" text-anchor="middle">0</text><text x="148" y="775.9" font-size="21" text-anchor="middle">25</text><text x="214.8" y="775.9" font-size="21" text-anchor="middle">50</text><text x="281.5" y="775.9" font-size="21" text-anchor="middle">75</text><text x="348.3" y="775.9" font-size="21" text-anchor="middle">100</text><text x="216.5" y="799.7" font-size="21" text-anchor="middle">Percentage of modes removed</text><text x="90.8" y="497.5" font-size="21">Social</text><text x="295.8" y="490.9" font-size="21">Data</text><line x1="148.2" y1="528.8" x2="175.2" y2="567.6" stroke="#000" stroke-width="2.1" marker-end="url(#ah)"/><circle cx="148.2" cy="528.8" r="7.7" fill="#000"/><line x1="148.2" y1="628.4" x2="131.3" y2="672.3" stroke="#000" stroke-width="2.1" marker-end="url(#ah)"/><circle cx="148.2" cy="628.4" r="7.7" fill="#000"/>
<line x1="495.1" y1="510.1" x2="495.1" y2="751.1" stroke="#333" stroke-width="1.9" stroke-dasharray="3.3 9.1"/><g transform="translate(623,498) scale(0.7230,0.7143)"><g clip-path="url(#bcclip)"><rect x="-5" y="-5" width="110" height="80" fill="#f2f2f2"/><g filter="url(#blur2)"><ellipse cx="24" cy="9" rx="10.5" ry="10" fill="#1c6fe0"/><ellipse cx="40" cy="9" rx="10.5" ry="10" fill="#f2a0a0"/><ellipse cx="56" cy="9" rx="10.5" ry="10" fill="#f2a0a0"/><ellipse cx="72" cy="9" rx="10.5" ry="10" fill="#f2a0a0"/><ellipse cx="8" cy="26" rx="10.5" ry="10" fill="#1c6fe0"/><ellipse cx="24" cy="26" rx="10.5" ry="10" fill="#f2a0a0"/><ellipse cx="40" cy="26" rx="10.5" ry="10" fill="#f2a0a0"/><ellipse cx="56" cy="26" rx="10.5" ry="10" fill="#f2a0a0"/><ellipse cx="72" cy="26" rx="10.5" ry="10" fill="#0a3ea8"/><ellipse cx="88" cy="26" rx="10.5" ry="10" fill="#f2a0a0"/><ellipse cx="8" cy="43" rx="10.5" ry="10" fill="#1c6fe0"/><ellipse cx="24" cy="43" rx="10.5" ry="10" fill="#a2caf2"/><ellipse cx="40" cy="43" rx="10.5" ry="10" fill="#f2a0a0"/><ellipse cx="56" cy="43" rx="10.5" ry="10" fill="#a2caf2"/><ellipse cx="72" cy="43" rx="10.5" ry="10" fill="#f2a0a0"/><ellipse cx="88" cy="43" rx="10.5" ry="10" fill="#e8141e"/><ellipse cx="40" cy="60" rx="10.5" ry="10" fill="#1c6fe0"/><ellipse cx="56" cy="60" rx="10.5" ry="10" fill="#a2caf2"/><ellipse cx="72" cy="60" rx="10.5" ry="10" fill="#f2a0a0"/></g><path d="M8,30 C14,20 24,12 38,8" fill="none" stroke="#fff" stroke-width="1.6" opacity="0.55"/><path d="M6,44 C10,34 18,26 30,22" fill="none" stroke="#fff" stroke-width="1.6" opacity="0.55"/><path d="M14,52 C18,44 26,38 36,36" fill="none" stroke="#fff" stroke-width="1.6" opacity="0.55"/><path d="M44,6 C42,16 38,26 34,34" fill="none" stroke="#fff" stroke-width="1.6" opacity="0.55"/><path d="M56,6 C54,16 50,26 46,34" fill="none" stroke="#fff" stroke-width="1.6" opacity="0.55"/><path d="M66,8 C70,16 74,22 80,24" fill="none" stroke="#fff" stroke-width="1.6" opacity="0.55"/><path d="M62,30 C70,30 80,34 90,42" fill="none" stroke="#fff" stroke-width="1.6" opacity="0.55"/><path d="M36,50 C48,46 62,44 82,44" fill="none" stroke="#fff" stroke-width="1.6" opacity="0.55"/><path d="M40,60 C52,56 66,54 84,52" fill="none" stroke="#fff" stroke-width="1.6" opacity="0.55"/><path d="M24,44 C34,38 46,37 60,30" fill="none" stroke="#444" stroke-width="0.9" opacity="0.5"/><path d="M58,2 C54,12 50,22 45,31" fill="none" stroke="#444" stroke-width="0.9" opacity="0.5"/><path d="M38,53 C50,48 62,47 80,46" fill="none" stroke="#444" stroke-width="0.9" opacity="0.5"/><path d="M20,18 C28,14 36,12 46,8" fill="none" stroke="#444" stroke-width="0.9" opacity="0.5"/><path d="M70,12 C76,18 82,22 88,30" fill="none" stroke="#444" stroke-width="0.9" opacity="0.5"/><path d="M12,34 C18,30 24,28 30,28" fill="none" stroke="#444" stroke-width="0.9" opacity="0.5"/></g><use href="#brainc" fill="none" stroke="#777" stroke-width="0.9"/></g><g transform="translate(508.7,556) scale(0.7210,0.7286)"><g clip-path="url(#bcclip)"><rect x="-5" y="-5" width="110" height="80" fill="#f2f2f2"/><g filter="url(#blur2)"><ellipse cx="24" cy="9" rx="10.5" ry="10" fill="#1c6fe0"/><ellipse cx="40" cy="9" rx="10.5" ry="10" fill="#e8141e"/><ellipse cx="56" cy="9" rx="10.5" ry="10" fill="#f2a0a0"/><ellipse cx="72" cy="9" rx="10.5" ry="10" fill="#f2a0a0"/><ellipse cx="8" cy="26" rx="10.5" ry="10" fill="#1c6fe0"/><ellipse cx="24" cy="26" rx="10.5" ry="10" fill="#f2a0a0"/><ellipse cx="40" cy="26" rx="10.5" ry="10" fill="#f2a0a0"/><ellipse cx="56" cy="26" rx="10.5" ry="10" fill="#f2a0a0"/><ellipse cx="72" cy="26" rx="10.5" ry="10" fill="#0a3ea8"/><ellipse cx="88" cy="26" rx="10.5" ry="10" fill="#e8141e"/><ellipse cx="8" cy="43" rx="10.5" ry="10" fill="#a2caf2"/><ellipse cx="24" cy="43" rx="10.5" ry="10" fill="#1c6fe0"/><ellipse cx="40" cy="43" rx="10.5" ry="10" fill="#f2a0a0"/><ellipse cx="56" cy="43" rx="10.5" ry="10" fill="#f2a0a0"/><ellipse cx="72" cy="43" rx="10.5" ry="10" fill="#f2a0a0"/><ellipse cx="88" cy="43" rx="10.5" ry="10" fill="#e8141e"/><ellipse cx="40" cy="60" rx="10.5" ry="10" fill="#a2caf2"/><ellipse cx="56" cy="60" rx="10.5" ry="10" fill="#a2caf2"/><ellipse cx="72" cy="60" rx="10.5" ry="10" fill="#f2a0a0"/></g><path d="M8,30 C14,20 24,12 38,8" fill="none" stroke="#fff" stroke-width="1.6" opacity="0.55"/><path d="M6,44 C10,34 18,26 30,22" fill="none" stroke="#fff" stroke-width="1.6" opacity="0.55"/><path d="M14,52 C18,44 26,38 36,36" fill="none" stroke="#fff" stroke-width="1.6" opacity="0.55"/><path d="M44,6 C42,16 38,26 34,34" fill="none" stroke="#fff" stroke-width="1.6" opacity="0.55"/><path d="M56,6 C54,16 50,26 46,34" fill="none" stroke="#fff" stroke-width="1.6" opacity="0.55"/><path d="M66,8 C70,16 74,22 80,24" fill="none" stroke="#fff" stroke-width="1.6" opacity="0.55"/><path d="M62,30 C70,30 80,34 90,42" fill="none" stroke="#fff" stroke-width="1.6" opacity="0.55"/><path d="M36,50 C48,46 62,44 82,44" fill="none" stroke="#fff" stroke-width="1.6" opacity="0.55"/><path d="M40,60 C52,56 66,54 84,52" fill="none" stroke="#fff" stroke-width="1.6" opacity="0.55"/><path d="M24,44 C34,38 46,37 60,30" fill="none" stroke="#444" stroke-width="0.9" opacity="0.5"/><path d="M58,2 C54,12 50,22 45,31" fill="none" stroke="#444" stroke-width="0.9" opacity="0.5"/><path d="M38,53 C50,48 62,47 80,46" fill="none" stroke="#444" stroke-width="0.9" opacity="0.5"/><path d="M20,18 C28,14 36,12 46,8" fill="none" stroke="#444" stroke-width="0.9" opacity="0.5"/><path d="M70,12 C76,18 82,22 88,30" fill="none" stroke="#444" stroke-width="0.9" opacity="0.5"/><path d="M12,34 C18,30 24,28 30,28" fill="none" stroke="#444" stroke-width="0.9" opacity="0.5"/></g><use href="#brainc" fill="none" stroke="#777" stroke-width="0.9"/></g><g transform="translate(442.3,698) scale(0.7210,0.7286)"><g clip-path="url(#bcclip)"><rect x="-5" y="-5" width="110" height="80" fill="#f2f2f2"/><g filter="url(#blur2)"><ellipse cx="24" cy="9" rx="10.5" ry="10" fill="#a2caf2"/><ellipse cx="40" cy="9" rx="10.5" ry="10" fill="#e8141e"/><ellipse cx="56" cy="9" rx="10.5" ry="10" fill="#a2caf2"/><ellipse cx="72" cy="9" rx="10.5" ry="10" fill="#1c6fe0"/><ellipse cx="8" cy="26" rx="10.5" ry="10" fill="#b40012"/><ellipse cx="24" cy="26" rx="10.5" ry="10" fill="#1c6fe0"/><ellipse cx="40" cy="26" rx="10.5" ry="10" fill="#f2a0a0"/><ellipse cx="56" cy="26" rx="10.5" ry="10" fill="#f2a0a0"/><ellipse cx="72" cy="26" rx="10.5" ry="10" fill="#0a3ea8"/><ellipse cx="88" cy="26" rx="10.5" ry="10" fill="#1c6fe0"/><ellipse cx="8" cy="43" rx="10.5" ry="10" fill="#a2caf2"/><ellipse cx="24" cy="43" rx="10.5" ry="10" fill="#1c6fe0"/><ellipse cx="40" cy="43" rx="10.5" ry="10" fill="#f2a0a0"/><ellipse cx="56" cy="43" rx="10.5" ry="10" fill="#a2caf2"/><ellipse cx="72" cy="43" rx="10.5" ry="10" fill="#e8141e"/><ellipse cx="88" cy="43" rx="10.5" ry="10" fill="#0a3ea8"/><ellipse cx="40" cy="60" rx="10.5" ry="10" fill="#f2a0a0"/><ellipse cx="56" cy="60" rx="10.5" ry="10" fill="#a2caf2"/><ellipse cx="72" cy="60" rx="10.5" ry="10" fill="#f2a0a0"/></g><path d="M8,30 C14,20 24,12 38,8" fill="none" stroke="#fff" stroke-width="1.6" opacity="0.55"/><path d="M6,44 C10,34 18,26 30,22" fill="none" stroke="#fff" stroke-width="1.6" opacity="0.55"/><path d="M14,52 C18,44 26,38 36,36" fill="none" stroke="#fff" stroke-width="1.6" opacity="0.55"/><path d="M44,6 C42,16 38,26 34,34" fill="none" stroke="#fff" stroke-width="1.6" opacity="0.55"/><path d="M56,6 C54,16 50,26 46,34" fill="none" stroke="#fff" stroke-width="1.6" opacity="0.55"/><path d="M66,8 C70,16 74,22 80,24" fill="none" stroke="#fff" stroke-width="1.6" opacity="0.55"/><path d="M62,30 C70,30 80,34 90,42" fill="none" stroke="#fff" stroke-width="1.6" opacity="0.55"/><path d="M36,50 C48,46 62,44 82,44" fill="none" stroke="#fff" stroke-width="1.6" opacity="0.55"/><path d="M40,60 C52,56 66,54 84,52" fill="none" stroke="#fff" stroke-width="1.6" opacity="0.55"/><path d="M24,44 C34,38 46,37 60,30" fill="none" stroke="#444" stroke-width="0.9" opacity="0.5"/><path d="M58,2 C54,12 50,22 45,31" fill="none" stroke="#444" stroke-width="0.9" opacity="0.5"/><path d="M38,53 C50,48 62,47 80,46" fill="none" stroke="#444" stroke-width="0.9" opacity="0.5"/><path d="M20,18 C28,14 36,12 46,8" fill="none" stroke="#444" stroke-width="0.9" opacity="0.5"/><path d="M70,12 C76,18 82,22 88,30" fill="none" stroke="#444" stroke-width="0.9" opacity="0.5"/><path d="M12,34 C18,30 24,28 30,28" fill="none" stroke="#444" stroke-width="0.9" opacity="0.5"/></g><use href="#brainc" fill="none" stroke="#777" stroke-width="0.9"/></g><polyline points="429.2,518 429.9,533.8 431,556.3 432.1,565.3 434.4,576.6 436.6,584.5 440,585.6 443.4,592.4 446.8,595.7 451.3,599.1 454.7,598 459.2,601.4 464.8,608.1 468.2,611.5 470.4,622.8 474.9,623.9 478.3,630.7 481.7,641.9 487.3,646.4 494.1,653.2 499.7,655.4 507.6,653.2 516.6,653.9 525.6,656.6 534.6,659.9 541.4,664.4 550.4,667.8 557.2,668.9 561.7,679.1 570.7,681.3 579.7,683.6 593.2,684.7 602.2,691.5 618,694.9 629.2,698.2 638.3,701.6 647.3,705 654,714 663,718.5 672,721.9 678.8,725.3 683.3,730.9 687.8,732 692.3,734.3 693.4,743.3 694.6,750" fill="none" stroke="#4aa83a" stroke-width="1.9" stroke-linejoin="round"/><polyline points="429.2,518 444.5,519.1 467.1,520.7 485.1,522.5 512.1,524.8 534.6,527 552.7,529.3 566.2,533.3 579.7,536 595.5,540.1 611.2,543.9 622.5,547.3 624.7,550.7 633.7,554.1 642.8,559.7 654,564.2 660.8,569.8 665.3,577.7 669.8,585.6 674.3,594.6 681.1,602.5 686.7,605.9 687.8,612.6 688.9,626.1 691.2,646.4 692.3,680.2 693.4,725.3 693.9,743.3 694.6,750" fill="none" stroke="#4aa83a" stroke-width="2" stroke-dasharray="8.2 7.8"/><path d="M428.3,505.2V752.1M427.3,751.1H696.4M428.3,751.1H433.6M428.3,702.1H433.6M428.3,653.1H433.6M428.3,604.1H433.6M428.3,555.1H433.6M428.3,506.1H433.6M428.3,751.1V745.6M495.1,751.1V745.6M561.9,751.1V745.6M628.6,751.1V745.6M695.4,751.1V745.6" stroke="#000" stroke-width="2" fill="none"/><text x="422" y="757.2" font-size="21" text-anchor="end">0</text><text x="422" y="708.2" font-size="21" text-anchor="end">0.2</text><text x="422" y="659.2" font-size="21" text-anchor="end">0.4</text><text x="422" y="610.2" font-size="21" text-anchor="end">0.6</text><text x="422" y="561.2" font-size="21" text-anchor="end">0.8</text><text x="422" y="512.2" font-size="21" text-anchor="end">1.0</text><text x="428.3" y="775.9" font-size="21" text-anchor="middle">0</text><text x="495.1" y="775.9" font-size="21" text-anchor="middle">25</text><text x="561.9" y="775.9" font-size="21" text-anchor="middle">50</text><text x="628.6" y="775.9" font-size="21" text-anchor="middle">75</text><text x="695.4" y="775.9" font-size="21" text-anchor="middle">100</text><text x="565.6" y="799.7" font-size="21" text-anchor="middle">Percentage of modes removed</text><text x="436.6" y="497.5" font-size="21">Motor</text><text x="643.4" y="490.9" font-size="21">Data</text><line x1="494.5" y1="523.7" x2="522.7" y2="563.1" stroke="#000" stroke-width="2.1" marker-end="url(#ah)"/><circle cx="494.5" cy="523.7" r="7.7" fill="#000"/><line x1="494.5" y1="653.9" x2="478.3" y2="700.5" stroke="#000" stroke-width="2.1" marker-end="url(#ah)"/><circle cx="494.5" cy="653.9" r="7.7" fill="#000"/>
<line x1="842.8" y1="510.1" x2="842.8" y2="751.1" stroke="#333" stroke-width="1.9" stroke-dasharray="3.3 9.1"/><g transform="translate(971.9,498) scale(0.7210,0.7143)"><g clip-path="url(#bcclip)"><rect x="-5" y="-5" width="110" height="80" fill="#f2f2f2"/><g filter="url(#blur2)"><ellipse cx="24" cy="9" rx="10.5" ry="10" fill="#1c6fe0"/><ellipse cx="40" cy="9" rx="10.5" ry="10" fill="#a2caf2"/><ellipse cx="56" cy="9" rx="10.5" ry="10" fill="#a2caf2"/><ellipse cx="72" cy="9" rx="10.5" ry="10" fill="#1c6fe0"/><ellipse cx="8" cy="26" rx="10.5" ry="10" fill="#1c6fe0"/><ellipse cx="24" cy="26" rx="10.5" ry="10" fill="#a2caf2"/><ellipse cx="40" cy="26" rx="10.5" ry="10" fill="#1c6fe0"/><ellipse cx="56" cy="26" rx="10.5" ry="10" fill="#a2caf2"/><ellipse cx="72" cy="26" rx="10.5" ry="10" fill="#1c6fe0"/><ellipse cx="88" cy="26" rx="10.5" ry="10" fill="#1c6fe0"/><ellipse cx="8" cy="43" rx="10.5" ry="10" fill="#1c6fe0"/><ellipse cx="24" cy="43" rx="10.5" ry="10" fill="#a2caf2"/><ellipse cx="40" cy="43" rx="10.5" ry="10" fill="#a2caf2"/><ellipse cx="56" cy="43" rx="10.5" ry="10" fill="#f2a0a0"/><ellipse cx="72" cy="43" rx="10.5" ry="10" fill="#1c6fe0"/><ellipse cx="88" cy="43" rx="10.5" ry="10" fill="#1c6fe0"/><ellipse cx="40" cy="60" rx="10.5" ry="10" fill="#a2caf2"/><ellipse cx="56" cy="60" rx="10.5" ry="10" fill="#1c6fe0"/><ellipse cx="72" cy="60" rx="10.5" ry="10" fill="#1c6fe0"/></g><path d="M8,30 C14,20 24,12 38,8" fill="none" stroke="#fff" stroke-width="1.6" opacity="0.55"/><path d="M6,44 C10,34 18,26 30,22" fill="none" stroke="#fff" stroke-width="1.6" opacity="0.55"/><path d="M14,52 C18,44 26,38 36,36" fill="none" stroke="#fff" stroke-width="1.6" opacity="0.55"/><path d="M44,6 C42,16 38,26 34,34" fill="none" stroke="#fff" stroke-width="1.6" opacity="0.55"/><path d="M56,6 C54,16 50,26 46,34" fill="none" stroke="#fff" stroke-width="1.6" opacity="0.55"/><path d="M66,8 C70,16 74,22 80,24" fill="none" stroke="#fff" stroke-width="1.6" opacity="0.55"/><path d="M62,30 C70,30 80,34 90,42" fill="none" stroke="#fff" stroke-width="1.6" opacity="0.55"/><path d="M36,50 C48,46 62,44 82,44" fill="none" stroke="#fff" stroke-width="1.6" opacity="0.55"/><path d="M40,60 C52,56 66,54 84,52" fill="none" stroke="#fff" stroke-width="1.6" opacity="0.55"/><path d="M24,44 C34,38 46,37 60,30" fill="none" stroke="#444" stroke-width="0.9" opacity="0.5"/><path d="M58,2 C54,12 50,22 45,31" fill="none" stroke="#444" stroke-width="0.9" opacity="0.5"/><path d="M38,53 C50,48 62,47 80,46" fill="none" stroke="#444" stroke-width="0.9" opacity="0.5"/><path d="M20,18 C28,14 36,12 46,8" fill="none" stroke="#444" stroke-width="0.9" opacity="0.5"/><path d="M70,12 C76,18 82,22 88,30" fill="none" stroke="#444" stroke-width="0.9" opacity="0.5"/><path d="M12,34 C18,30 24,28 30,28" fill="none" stroke="#444" stroke-width="0.9" opacity="0.5"/></g><use href="#brainc" fill="none" stroke="#777" stroke-width="0.9"/></g><g transform="translate(857,573.2) scale(0.7200,0.7243)"><g clip-path="url(#bcclip)"><rect x="-5" y="-5" width="110" height="80" fill="#f2f2f2"/><g filter="url(#blur2)"><ellipse cx="24" cy="9" rx="10.5" ry="10" fill="#1c6fe0"/><ellipse cx="40" cy="9" rx="10.5" ry="10" fill="#a2caf2"/><ellipse cx="56" cy="9" rx="10.5" ry="10" fill="#a2caf2"/><ellipse cx="72" cy="9" rx="10.5" ry="10" fill="#1c6fe0"/><ellipse cx="8" cy="26" rx="10.5" ry="10" fill="#1c6fe0"/><ellipse cx="24" cy="26" rx="10.5" ry="10" fill="#1c6fe0"/><ellipse cx="40" cy="26" rx="10.5" ry="10" fill="#a2caf2"/><ellipse cx="56" cy="26" rx="10.5" ry="10" fill="#a2caf2"/><ellipse cx="72" cy="26" rx="10.5" ry="10" fill="#1c6fe0"/><ellipse cx="88" cy="26" rx="10.5" ry="10" fill="#1c6fe0"/><ellipse cx="8" cy="43" rx="10.5" ry="10" fill="#1c6fe0"/><ellipse cx="24" cy="43" rx="10.5" ry="10" fill="#a2caf2"/><ellipse cx="40" cy="43" rx="10.5" ry="10" fill="#e8141e"/><ellipse cx="56" cy="43" rx="10.5" ry="10" fill="#a2caf2"/><ellipse cx="72" cy="43" rx="10.5" ry="10" fill="#1c6fe0"/><ellipse cx="88" cy="43" rx="10.5" ry="10" fill="#1c6fe0"/><ellipse cx="40" cy="60" rx="10.5" ry="10" fill="#e8141e"/><ellipse cx="56" cy="60" rx="10.5" ry="10" fill="#a2caf2"/><ellipse cx="72" cy="60" rx="10.5" ry="10" fill="#1c6fe0"/></g><path d="M8,30 C14,20 24,12 38,8" fill="none" stroke="#fff" stroke-width="1.6" opacity="0.55"/><path d="M6,44 C10,34 18,26 30,22" fill="none" stroke="#fff" stroke-width="1.6" opacity="0.55"/><path d="M14,52 C18,44 26,38 36,36" fill="none" stroke="#fff" stroke-width="1.6" opacity="0.55"/><path d="M44,6 C42,16 38,26 34,34" fill="none" stroke="#fff" stroke-width="1.6" opacity="0.55"/><path d="M56,6 C54,16 50,26 46,34" fill="none" stroke="#fff" stroke-width="1.6" opacity="0.55"/><path d="M66,8 C70,16 74,22 80,24" fill="none" stroke="#fff" stroke-width="1.6" opacity="0.55"/><path d="M62,30 C70,30 80,34 90,42" fill="none" stroke="#fff" stroke-width="1.6" opacity="0.55"/><path d="M36,50 C48,46 62,44 82,44" fill="none" stroke="#fff" stroke-width="1.6" opacity="0.55"/><path d="M40,60 C52,56 66,54 84,52" fill="none" stroke="#fff" stroke-width="1.6" opacity="0.55"/><path d="M24,44 C34,38 46,37 60,30" fill="none" stroke="#444" stroke-width="0.9" opacity="0.5"/><path d="M58,2 C54,12 50,22 45,31" fill="none" stroke="#444" stroke-width="0.9" opacity="0.5"/><path d="M38,53 C50,48 62,47 80,46" fill="none" stroke="#444" stroke-width="0.9" opacity="0.5"/><path d="M20,18 C28,14 36,12 46,8" fill="none" stroke="#444" stroke-width="0.9" opacity="0.5"/><path d="M70,12 C76,18 82,22 88,30" fill="none" stroke="#444" stroke-width="0.9" opacity="0.5"/><path d="M12,34 C18,30 24,28 30,28" fill="none" stroke="#444" stroke-width="0.9" opacity="0.5"/></g><use href="#brainc" fill="none" stroke="#777" stroke-width="0.9"/></g><g transform="translate(789.4,669) scale(0.7100,0.7071)"><g clip-path="url(#bcclip)"><rect x="-5" y="-5" width="110" height="80" fill="#f2f2f2"/><g filter="url(#blur2)"><ellipse cx="24" cy="9" rx="10.5" ry="10" fill="#a2caf2"/><ellipse cx="40" cy="9" rx="10.5" ry="10" fill="#a2caf2"/><ellipse cx="56" cy="9" rx="10.5" ry="10" fill="#e8141e"/><ellipse cx="72" cy="9" rx="10.5" ry="10" fill="#a2caf2"/><ellipse cx="8" cy="26" rx="10.5" ry="10" fill="#e8141e"/><ellipse cx="24" cy="26" rx="10.5" ry="10" fill="#e8141e"/><ellipse cx="40" cy="26" rx="10.5" ry="10" fill="#f2a0a0"/><ellipse cx="56" cy="26" rx="10.5" ry="10" fill="#a2caf2"/><ellipse cx="72" cy="26" rx="10.5" ry="10" fill="#e8141e"/><ellipse cx="88" cy="26" rx="10.5" ry="10" fill="#f2a0a0"/><ellipse cx="8" cy="43" rx="10.5" ry="10" fill="#1c6fe0"/><ellipse cx="24" cy="43" rx="10.5" ry="10" fill="#a2caf2"/><ellipse cx="40" cy="43" rx="10.5" ry="10" fill="#f2a0a0"/><ellipse cx="56" cy="43" rx="10.5" ry="10" fill="#a2caf2"/><ellipse cx="72" cy="43" rx="10.5" ry="10" fill="#f2a0a0"/><ellipse cx="88" cy="43" rx="10.5" ry="10" fill="#a2caf2"/><ellipse cx="40" cy="60" rx="10.5" ry="10" fill="#e8141e"/><ellipse cx="56" cy="60" rx="10.5" ry="10" fill="#e8141e"/><ellipse cx="72" cy="60" rx="10.5" ry="10" fill="#a2caf2"/></g><path d="M8,30 C14,20 24,12 38,8" fill="none" stroke="#fff" stroke-width="1.6" opacity="0.55"/><path d="M6,44 C10,34 18,26 30,22" fill="none" stroke="#fff" stroke-width="1.6" opacity="0.55"/><path d="M14,52 C18,44 26,38 36,36" fill="none" stroke="#fff" stroke-width="1.6" opacity="0.55"/><path d="M44,6 C42,16 38,26 34,34" fill="none" stroke="#fff" stroke-width="1.6" opacity="0.55"/><path d="M56,6 C54,16 50,26 46,34" fill="none" stroke="#fff" stroke-width="1.6" opacity="0.55"/><path d="M66,8 C70,16 74,22 80,24" fill="none" stroke="#fff" stroke-width="1.6" opacity="0.55"/><path d="M62,30 C70,30 80,34 90,42" fill="none" stroke="#fff" stroke-width="1.6" opacity="0.55"/><path d="M36,50 C48,46 62,44 82,44" fill="none" stroke="#fff" stroke-width="1.6" opacity="0.55"/><path d="M40,60 C52,56 66,54 84,52" fill="none" stroke="#fff" stroke-width="1.6" opacity="0.55"/><path d="M24,44 C34,38 46,37 60,30" fill="none" stroke="#444" stroke-width="0.9" opacity="0.5"/><path d="M58,2 C54,12 50,22 45,31" fill="none" stroke="#444" stroke-width="0.9" opacity="0.5"/><path d="M38,53 C50,48 62,47 80,46" fill="none" stroke="#444" stroke-width="0.9" opacity="0.5"/><path d="M20,18 C28,14 36,12 46,8" fill="none" stroke="#444" stroke-width="0.9" opacity="0.5"/><path d="M70,12 C76,18 82,22 88,30" fill="none" stroke="#444" stroke-width="0.9" opacity="0.5"/><path d="M12,34 C18,30 24,28 30,28" fill="none" stroke="#444" stroke-width="0.9" opacity="0.5"/></g><use href="#brainc" fill="none" stroke="#777" stroke-width="0.9"/></g><polyline points="776.6,532.7 779.3,542.8 783.8,554.1 788.3,563.1 791.7,574.3 797.3,581.1 804,587.9 813.1,596.9 822.1,605.9 831.1,614.9 840.1,621.6 843,623.9 851.3,629.5 862.6,635.2 873.9,641.9 885.1,649.8 896.4,655.4 907.7,661.1 921.2,667.8 934.7,674.6 948.2,681.3 961.7,688.1 975.2,696 988.8,701.6 1000,708.4 1011.3,714 1022.5,721.9 1031.6,729.8 1038.3,737.7 1042.8,745.5" fill="none" stroke="#4cb9e8" stroke-width="1.9" stroke-linejoin="round"/><polyline points="776.6,532.7 790.5,534.9 813.1,537.8 843,541.7 869.4,545.1 891.9,549.6 914.4,555.2 936.9,560.8 959.5,567.6 982,581.1 997.8,592.4 1011.3,603.6 1022.5,617.1 1029.3,630.7 1033.8,644.2 1037.2,662.2 1039.4,680.2 1040.6,702.7 1041.7,725.3 1042.8,745.5" fill="none" stroke="#4cb9e8" stroke-width="2" stroke-dasharray="8.2 7.8"/><path d="M776,505.2V752.1M775,751.1H1044.1M776,751.1H781.3M776,702.1H781.3M776,653.1H781.3M776,604.1H781.3M776,555.1H781.3M776,506.1H781.3M776,751.1V745.6M842.8,751.1V745.6M909.5,751.1V745.6M976.3,751.1V745.6M1043.1,751.1V745.6" stroke="#000" stroke-width="2" fill="none"/><text x="768.1" y="757.2" font-size="21" text-anchor="end">0</text><text x="768.1" y="708.2" font-size="21" text-anchor="end">0.2</text><text x="768.1" y="659.2" font-size="21" text-anchor="end">0.4</text><text x="768.1" y="610.2" font-size="21" text-anchor="end">0.6</text><text x="768.1" y="561.2" font-size="21" text-anchor="end">0.8</text><text x="768.1" y="512.2" font-size="21" text-anchor="end">1.0</text><text x="776" y="775.9" font-size="21" text-anchor="middle">0</text><text x="842.8" y="775.9" font-size="21" text-anchor="middle">25</text><text x="909.5" y="775.9" font-size="21" text-anchor="middle">50</text><text x="976.3" y="775.9" font-size="21" text-anchor="middle">75</text><text x="1043.1" y="775.9" font-size="21" text-anchor="middle">100</text><text x="912.5" y="799.7" font-size="21" text-anchor="middle">Percentage of modes removed</text><text x="784.2" y="497.5" font-size="21">Gambling</text><text x="991.2" y="490.9" font-size="21">Data</text><line x1="843" y1="541.2" x2="870.5" y2="581.1" stroke="#000" stroke-width="2.1" marker-end="url(#ah)"/><circle cx="843" cy="541.2" r="7.7" fill="#000"/><line x1="843" y1="623.4" x2="825.4" y2="670.1" stroke="#000" stroke-width="2.1" marker-end="url(#ah)"/><circle cx="843" cy="623.4" r="7.7" fill="#000"/>
<line x1="1189.6" y1="510.1" x2="1189.6" y2="751.1" stroke="#333" stroke-width="1.9" stroke-dasharray="3.3 9.1"/><g transform="translate(1318.9,498) scale(0.7140,0.7143)"><g clip-path="url(#bcclip)"><rect x="-5" y="-5" width="110" height="80" fill="#f2f2f2"/><g filter="url(#blur2)"><ellipse cx="24" cy="9" rx="10.5" ry="10" fill="#f2a0a0"/><ellipse cx="40" cy="9" rx="10.5" ry="10" fill="#e8141e"/><ellipse cx="56" cy="9" rx="10.5" ry="10" fill="#a2caf2"/><ellipse cx="72" cy="9" rx="10.5" ry="10" fill="#a2caf2"/><ellipse cx="8" cy="26" rx="10.5" ry="10" fill="#1c6fe0"/><ellipse cx="24" cy="26" rx="10.5" ry="10" fill="#e8141e"/><ellipse cx="40" cy="26" rx="10.5" ry="10" fill="#a2caf2"/><ellipse cx="56" cy="26" rx="10.5" ry="10" fill="#1c6fe0"/><ellipse cx="72" cy="26" rx="10.5" ry="10" fill="#e8141e"/><ellipse cx="88" cy="26" rx="10.5" ry="10" fill="#1c6fe0"/><ellipse cx="8" cy="43" rx="10.5" ry="10" fill="#e8141e"/><ellipse cx="24" cy="43" rx="10.5" ry="10" fill="#a2caf2"/><ellipse cx="40" cy="43" rx="10.5" ry="10" fill="#1c6fe0"/><ellipse cx="56" cy="43" rx="10.5" ry="10" fill="#a2caf2"/><ellipse cx="72" cy="43" rx="10.5" ry="10" fill="#f2a0a0"/><ellipse cx="88" cy="43" rx="10.5" ry="10" fill="#a2caf2"/><ellipse cx="40" cy="60" rx="10.5" ry="10" fill="#1c6fe0"/><ellipse cx="56" cy="60" rx="10.5" ry="10" fill="#a2caf2"/><ellipse cx="72" cy="60" rx="10.5" ry="10" fill="#f2a0a0"/></g><path d="M8,30 C14,20 24,12 38,8" fill="none" stroke="#fff" stroke-width="1.6" opacity="0.55"/><path d="M6,44 C10,34 18,26 30,22" fill="none" stroke="#fff" stroke-width="1.6" opacity="0.55"/><path d="M14,52 C18,44 26,38 36,36" fill="none" stroke="#fff" stroke-width="1.6" opacity="0.55"/><path d="M44,6 C42,16 38,26 34,34" fill="none" stroke="#fff" stroke-width="1.6" opacity="0.55"/><path d="M56,6 C54,16 50,26 46,34" fill="none" stroke="#fff" stroke-width="1.6" opacity="0.55"/><path d="M66,8 C70,16 74,22 80,24" fill="none" stroke="#fff" stroke-width="1.6" opacity="0.55"/><path d="M62,30 C70,30 80,34 90,42" fill="none" stroke="#fff" stroke-width="1.6" opacity="0.55"/><path d="M36,50 C48,46 62,44 82,44" fill="none" stroke="#fff" stroke-width="1.6" opacity="0.55"/><path d="M40,60 C52,56 66,54 84,52" fill="none" stroke="#fff" stroke-width="1.6" opacity="0.55"/><path d="M24,44 C34,38 46,37 60,30" fill="none" stroke="#444" stroke-width="0.9" opacity="0.5"/><path d="M58,2 C54,12 50,22 45,31" fill="none" stroke="#444" stroke-width="0.9" opacity="0.5"/><path d="M38,53 C50,48 62,47 80,46" fill="none" stroke="#444" stroke-width="0.9" opacity="0.5"/><path d="M20,18 C28,14 36,12 46,8" fill="none" stroke="#444" stroke-width="0.9" opacity="0.5"/><path d="M70,12 C76,18 82,22 88,30" fill="none" stroke="#444" stroke-width="0.9" opacity="0.5"/><path d="M12,34 C18,30 24,28 30,28" fill="none" stroke="#444" stroke-width="0.9" opacity="0.5"/></g><use href="#brainc" fill="none" stroke="#777" stroke-width="0.9"/></g><g transform="translate(1202.9,561.3) scale(0.7250,0.7271)"><g clip-path="url(#bcclip)"><rect x="-5" y="-5" width="110" height="80" fill="#f2f2f2"/><g filter="url(#blur2)"><ellipse cx="24" cy="9" rx="10.5" ry="10" fill="#e8141e"/><ellipse cx="40" cy="9" rx="10.5" ry="10" fill="#e8141e"/><ellipse cx="56" cy="9" rx="10.5" ry="10" fill="#a2caf2"/><ellipse cx="72" cy="9" rx="10.5" ry="10" fill="#e8141e"/><ellipse cx="8" cy="26" rx="10.5" ry="10" fill="#1c6fe0"/><ellipse cx="24" cy="26" rx="10.5" ry="10" fill="#e8141e"/><ellipse cx="40" cy="26" rx="10.5" ry="10" fill="#a2caf2"/><ellipse cx="56" cy="26" rx="10.5" ry="10" fill="#1c6fe0"/><ellipse cx="72" cy="26" rx="10.5" ry="10" fill="#a2caf2"/><ellipse cx="88" cy="26" rx="10.5" ry="10" fill="#a2caf2"/><ellipse cx="8" cy="43" rx="10.5" ry="10" fill="#e8141e"/><ellipse cx="24" cy="43" rx="10.5" ry="10" fill="#e8141e"/><ellipse cx="40" cy="43" rx="10.5" ry="10" fill="#1c6fe0"/><ellipse cx="56" cy="43" rx="10.5" ry="10" fill="#a2caf2"/><ellipse cx="72" cy="43" rx="10.5" ry="10" fill="#f2a0a0"/><ellipse cx="88" cy="43" rx="10.5" ry="10" fill="#a2caf2"/><ellipse cx="40" cy="60" rx="10.5" ry="10" fill="#1c6fe0"/><ellipse cx="56" cy="60" rx="10.5" ry="10" fill="#a2caf2"/><ellipse cx="72" cy="60" rx="10.5" ry="10" fill="#a2caf2"/></g><path d="M8,30 C14,20 24,12 38,8" fill="none" stroke="#fff" stroke-width="1.6" opacity="0.55"/><path d="M6,44 C10,34 18,26 30,22" fill="none" stroke="#fff" stroke-width="1.6" opacity="0.55"/><path d="M14,52 C18,44 26,38 36,36" fill="none" stroke="#fff" stroke-width="1.6" opacity="0.55"/><path d="M44,6 C42,16 38,26 34,34" fill="none" stroke="#fff" stroke-width="1.6" opacity="0.55"/><path d="M56,6 C54,16 50,26 46,34" fill="none" stroke="#fff" stroke-width="1.6" opacity="0.55"/><path d="M66,8 C70,16 74,22 80,24" fill="none" stroke="#fff" stroke-width="1.6" opacity="0.55"/><path d="M62,30 C70,30 80,34 90,42" fill="none" stroke="#fff" stroke-width="1.6" opacity="0.55"/><path d="M36,50 C48,46 62,44 82,44" fill="none" stroke="#fff" stroke-width="1.6" opacity="0.55"/><path d="M40,60 C52,56 66,54 84,52" fill="none" stroke="#fff" stroke-width="1.6" opacity="0.55"/><path d="M24,44 C34,38 46,37 60,30" fill="none" stroke="#444" stroke-width="0.9" opacity="0.5"/><path d="M58,2 C54,12 50,22 45,31" fill="none" stroke="#444" stroke-width="0.9" opacity="0.5"/><path d="M38,53 C50,48 62,47 80,46" fill="none" stroke="#444" stroke-width="0.9" opacity="0.5"/><path d="M20,18 C28,14 36,12 46,8" fill="none" stroke="#444" stroke-width="0.9" opacity="0.5"/><path d="M70,12 C76,18 82,22 88,30" fill="none" stroke="#444" stroke-width="0.9" opacity="0.5"/><path d="M12,34 C18,30 24,28 30,28" fill="none" stroke="#444" stroke-width="0.9" opacity="0.5"/></g><use href="#brainc" fill="none" stroke="#777" stroke-width="0.9"/></g><g transform="translate(1137,663.3) scale(0.7150,0.7086)"><g clip-path="url(#bcclip)"><rect x="-5" y="-5" width="110" height="80" fill="#f2f2f2"/><g filter="url(#blur2)"><ellipse cx="24" cy="9" rx="10.5" ry="10" fill="#1c6fe0"/><ellipse cx="40" cy="9" rx="10.5" ry="10" fill="#e8141e"/><ellipse cx="56" cy="9" rx="10.5" ry="10" fill="#a2caf2"/><ellipse cx="72" cy="9" rx="10.5" ry="10" fill="#a2caf2"/><ellipse cx="8" cy="26" rx="10.5" ry="10" fill="#a2caf2"/><ellipse cx="24" cy="26" rx="10.5" ry="10" fill="#e8141e"/><ellipse cx="40" cy="26" rx="10.5" ry="10" fill="#f2a0a0"/><ellipse cx="56" cy="26" rx="10.5" ry="10" fill="#1c6fe0"/><ellipse cx="72" cy="26" rx="10.5" ry="10" fill="#1c6fe0"/><ellipse cx="88" cy="26" rx="10.5" ry="10" fill="#a2caf2"/><ellipse cx="8" cy="43" rx="10.5" ry="10" fill="#e8141e"/><ellipse cx="24" cy="43" rx="10.5" ry="10" fill="#e8141e"/><ellipse cx="40" cy="43" rx="10.5" ry="10" fill="#a2caf2"/><ellipse cx="56" cy="43" rx="10.5" ry="10" fill="#f2a0a0"/><ellipse cx="72" cy="43" rx="10.5" ry="10" fill="#f2a0a0"/><ellipse cx="88" cy="43" rx="10.5" ry="10" fill="#a2caf2"/><ellipse cx="40" cy="60" rx="10.5" ry="10" fill="#f2a0a0"/><ellipse cx="56" cy="60" rx="10.5" ry="10" fill="#e8141e"/><ellipse cx="72" cy="60" rx="10.5" ry="10" fill="#a2caf2"/></g><path d="M8,30 C14,20 24,12 38,8" fill="none" stroke="#fff" stroke-width="1.6" opacity="0.55"/><path d="M6,44 C10,34 18,26 30,22" fill="none" stroke="#fff" stroke-width="1.6" opacity="0.55"/><path d="M14,52 C18,44 26,38 36,36" fill="none" stroke="#fff" stroke-width="1.6" opacity="0.55"/><path d="M44,6 C42,16 38,26 34,34" fill="none" stroke="#fff" stroke-width="1.6" opacity="0.55"/><path d="M56,6 C54,16 50,26 46,34" fill="none" stroke="#fff" stroke-width="1.6" opacity="0.55"/><path d="M66,8 C70,16 74,22 80,24" fill="none" stroke="#fff" stroke-width="1.6" opacity="0.55"/><path d="M62,30 C70,30 80,34 90,42" fill="none" stroke="#fff" stroke-width="1.6" opacity="0.55"/><path d="M36,50 C48,46 62,44 82,44" fill="none" stroke="#fff" stroke-width="1.6" opacity="0.55"/><path d="M40,60 C52,56 66,54 84,52" fill="none" stroke="#fff" stroke-width="1.6" opacity="0.55"/><path d="M24,44 C34,38 46,37 60,30" fill="none" stroke="#444" stroke-width="0.9" opacity="0.5"/><path d="M58,2 C54,12 50,22 45,31" fill="none" stroke="#444" stroke-width="0.9" opacity="0.5"/><path d="M38,53 C50,48 62,47 80,46" fill="none" stroke="#444" stroke-width="0.9" opacity="0.5"/><path d="M20,18 C28,14 36,12 46,8" fill="none" stroke="#444" stroke-width="0.9" opacity="0.5"/><path d="M70,12 C76,18 82,22 88,30" fill="none" stroke="#444" stroke-width="0.9" opacity="0.5"/><path d="M12,34 C18,30 24,28 30,28" fill="none" stroke="#444" stroke-width="0.9" opacity="0.5"/></g><use href="#brainc" fill="none" stroke="#777" stroke-width="0.9"/></g><polyline points="1123.3,521.4 1128.5,531.5 1133,540.5 1137.5,549.6 1142,558.6 1146.5,565.3 1151,574.3 1155.5,585.6 1160.1,593.5 1166.8,599.1 1173.6,603.6 1180.3,608.1 1187.1,613.8 1190,618.3 1198.3,628.4 1209.6,634 1220.9,640.8 1232.1,648.7 1243.4,652.1 1254.7,656.6 1263.7,662.2 1272.7,666.7 1281.7,667.8 1290.7,673.5 1297.5,680.2 1306.5,684.7 1317.7,689.2 1326.7,696 1335.8,701.6 1347,707.2 1353.8,712.9 1358.3,714 1365,717.4 1371.8,723 1378.6,728.6 1383.1,734.3 1385.3,741 1389.4,748.9" fill="none" stroke="#e0201b" stroke-width="1.9" stroke-linejoin="round"/><polyline points="1123.3,521.4 1137.5,523.2 1160.1,525.9 1180.3,528.2 1205.1,531.5 1227.6,534.9 1250.2,538.3 1272.7,541.7 1293,546.2 1308.7,552.9 1316.6,555.2 1320,561.9 1326.7,566.5 1335.8,571 1347,576.6 1356,585.6 1360.5,594.6 1367.3,605.9 1371.8,619.4 1376.3,635.2 1380.8,653.2 1384.2,671.2 1386.4,691.5 1387.6,714 1388.2,736.5 1389.4,748.9" fill="none" stroke="#e0201b" stroke-width="2" stroke-dasharray="8.2 7.8"/><path d="M1122.8,505.2V752.1M1121.8,751.1H1390.9M1122.8,751.1H1128.1M1122.8,702.1H1128.1M1122.8,653.1H1128.1M1122.8,604.1H1128.1M1122.8,555.1H1128.1M1122.8,506.1H1128.1M1122.8,751.1V745.6M1189.6,751.1V745.6M1256.3,751.1V745.6M1323.1,751.1V745.6M1389.9,751.1V745.6" stroke="#000" stroke-width="2" fill="none"/><text x="1114.7" y="757.2" font-size="21" text-anchor="end">0</text><text x="1114.7" y="708.2" font-size="21" text-anchor="end">0.2</text><text x="1114.7" y="659.2" font-size="21" text-anchor="end">0.4</text><text x="1114.7" y="610.2" font-size="21" text-anchor="end">0.6</text><text x="1114.7" y="561.2" font-size="21" text-anchor="end">0.8</text><text x="1114.7" y="512.2" font-size="21" text-anchor="end">1.0</text><text x="1122.8" y="775.9" font-size="21" text-anchor="middle">0</text><text x="1189.6" y="775.9" font-size="21" text-anchor="middle">25</text><text x="1256.3" y="775.9" font-size="21" text-anchor="middle">50</text><text x="1323.1" y="775.9" font-size="21" text-anchor="middle">75</text><text x="1389.9" y="775.9" font-size="21" text-anchor="middle">100</text><text x="1253" y="799.7" font-size="21" text-anchor="middle">Percentage of modes removed</text><text x="1130.5" y="497.5" font-size="21">Working memory</text><text x="1338.4" y="490.9" font-size="21">Data</text><line x1="1190" y1="529.3" x2="1217.5" y2="568.7" stroke="#000" stroke-width="2.1" marker-end="url(#ah)"/><circle cx="1190" cy="529.3" r="7.7" fill="#000"/><line x1="1190" y1="618.7" x2="1172.4" y2="664.4" stroke="#000" stroke-width="2.1" marker-end="url(#ah)"/><circle cx="1190" cy="618.7" r="7.7" fill="#000"/>
<line x1="148" y1="857.2" x2="148" y2="1098.1" stroke="#333" stroke-width="1.9" stroke-dasharray="3.3 9.1"/><g transform="translate(277.7,844) scale(0.7100,0.7371)"><g clip-path="url(#bcclip)"><rect x="-5" y="-5" width="110" height="80" fill="#f2f2f2"/><g filter="url(#blur2)"><ellipse cx="24" cy="9" rx="10.5" ry="10" fill="#f2a0a0"/><ellipse cx="56" cy="9" rx="10.5" ry="10" fill="#f2a0a0"/><ellipse cx="72" cy="9" rx="10.5" ry="10" fill="#e8141e"/><ellipse cx="8" cy="26" rx="10.5" ry="10" fill="#1c6fe0"/><ellipse cx="24" cy="26" rx="10.5" ry="10" fill="#e8141e"/><ellipse cx="40" cy="26" rx="10.5" ry="10" fill="#e8141e"/><ellipse cx="56" cy="26" rx="10.5" ry="10" fill="#e8141e"/><ellipse cx="72" cy="26" rx="10.5" ry="10" fill="#0a3ea8"/><ellipse cx="88" cy="26" rx="10.5" ry="10" fill="#f2a0a0"/><ellipse cx="8" cy="43" rx="10.5" ry="10" fill="#e8141e"/><ellipse cx="24" cy="43" rx="10.5" ry="10" fill="#1c6fe0"/><ellipse cx="40" cy="43" rx="10.5" ry="10" fill="#1c6fe0"/><ellipse cx="56" cy="43" rx="10.5" ry="10" fill="#a2caf2"/><ellipse cx="72" cy="43" rx="10.5" ry="10" fill="#f2a0a0"/><ellipse cx="88" cy="43" rx="10.5" ry="10" fill="#a2caf2"/><ellipse cx="40" cy="60" rx="10.5" ry="10" fill="#0a3ea8"/><ellipse cx="56" cy="60" rx="10.5" ry="10" fill="#1c6fe0"/><ellipse cx="72" cy="60" rx="10.5" ry="10" fill="#a2caf2"/></g><path d="M8,30 C14,20 24,12 38,8" fill="none" stroke="#fff" stroke-width="1.6" opacity="0.55"/><path d="M6,44 C10,34 18,26 30,22" fill="none" stroke="#fff" stroke-width="1.6" opacity="0.55"/><path d="M14,52 C18,44 26,38 36,36" fill="none" stroke="#fff" stroke-width="1.6" opacity="0.55"/><path d="M44,6 C42,16 38,26 34,34" fill="none" stroke="#fff" stroke-width="1.6" opacity="0.55"/><path d="M56,6 C54,16 50,26 46,34" fill="none" stroke="#fff" stroke-width="1.6" opacity="0.55"/><path d="M66,8 C70,16 74,22 80,24" fill="none" stroke="#fff" stroke-width="1.6" opacity="0.55"/><path d="M62,30 C70,30 80,34 90,42" fill="none" stroke="#fff" stroke-width="1.6" opacity="0.55"/><path d="M36,50 C48,46 62,44 82,44" fill="none" stroke="#fff" stroke-width="1.6" opacity="0.55"/><path d="M40,60 C52,56 66,54 84,52" fill="none" stroke="#fff" stroke-width="1.6" opacity="0.55"/><path d="M24,44 C34,38 46,37 60,30" fill="none" stroke="#444" stroke-width="0.9" opacity="0.5"/><path d="M58,2 C54,12 50,22 45,31" fill="none" stroke="#444" stroke-width="0.9" opacity="0.5"/><path d="M38,53 C50,48 62,47 80,46" fill="none" stroke="#444" stroke-width="0.9" opacity="0.5"/><path d="M20,18 C28,14 36,12 46,8" fill="none" stroke="#444" stroke-width="0.9" opacity="0.5"/><path d="M70,12 C76,18 82,22 88,30" fill="none" stroke="#444" stroke-width="0.9" opacity="0.5"/><path d="M12,34 C18,30 24,28 30,28" fill="none" stroke="#444" stroke-width="0.9" opacity="0.5"/></g><use href="#brainc" fill="none" stroke="#777" stroke-width="0.9"/></g><g transform="translate(162.4,901.2) scale(0.7140,0.7243)"><g clip-path="url(#bcclip)"><rect x="-5" y="-5" width="110" height="80" fill="#f2f2f2"/><g filter="url(#blur2)"><ellipse cx="24" cy="9" rx="10.5" ry="10" fill="#a2caf2"/><ellipse cx="40" cy="9" rx="10.5" ry="10" fill="#e8141e"/><ellipse cx="72" cy="9" rx="10.5" ry="10" fill="#e8141e"/><ellipse cx="8" cy="26" rx="10.5" ry="10" fill="#1c6fe0"/><ellipse cx="24" cy="26" rx="10.5" ry="10" fill="#e8141e"/><ellipse cx="40" cy="26" rx="10.5" ry="10" fill="#a2caf2"/><ellipse cx="56" cy="26" rx="10.5" ry="10" fill="#f2a0a0"/><ellipse cx="72" cy="26" rx="10.5" ry="10" fill="#1c6fe0"/><ellipse cx="88" cy="26" rx="10.5" ry="10" fill="#a2caf2"/><ellipse cx="8" cy="43" rx="10.5" ry="10" fill="#f2a0a0"/><ellipse cx="24" cy="43" rx="10.5" ry="10" fill="#1c6fe0"/><ellipse cx="40" cy="43" rx="10.5" ry="10" fill="#a2caf2"/><ellipse cx="56" cy="43" rx="10.5" ry="10" fill="#1c6fe0"/><ellipse cx="72" cy="43" rx="10.5" ry="10" fill="#a2caf2"/><ellipse cx="88" cy="43" rx="10.5" ry="10" fill="#a2caf2"/><ellipse cx="40" cy="60" rx="10.5" ry="10" fill="#0a3ea8"/><ellipse cx="56" cy="60" rx="10.5" ry="10" fill="#1c6fe0"/><ellipse cx="72" cy="60" rx="10.5" ry="10" fill="#f2a0a0"/></g><path d="M8,30 C14,20 24,12 38,8" fill="none" stroke="#fff" stroke-width="1.6" opacity="0.55"/><path d="M6,44 C10,34 18,26 30,22" fill="none" stroke="#fff" stroke-width="1.6" opacity="0.55"/><path d="M14,52 C18,44 26,38 36,36" fill="none" stroke="#fff" stroke-width="1.6" opacity="0.55"/><path d="M44,6 C42,16 38,26 34,34" fill="none" stroke="#fff" stroke-width="1.6" opacity="0.55"/><path d="M56,6 C54,16 50,26 46,34" fill="none" stroke="#fff" stroke-width="1.6" opacity="0.55"/><path d="M66,8 C70,16 74,22 80,24" fill="none" stroke="#fff" stroke-width="1.6" opacity="0.55"/><path d="M62,30 C70,30 80,34 90,42" fill="none" stroke="#fff" stroke-width="1.6" opacity="0.55"/><path d="M36,50 C48,46 62,44 82,44" fill="none" stroke="#fff" stroke-width="1.6" opacity="0.55"/><path d="M40,60 C52,56 66,54 84,52" fill="none" stroke="#fff" stroke-width="1.6" opacity="0.55"/><path d="M24,44 C34,38 46,37 60,30" fill="none" stroke="#444" stroke-width="0.9" opacity="0.5"/><path d="M58,2 C54,12 50,22 45,31" fill="none" stroke="#444" stroke-width="0.9" opacity="0.5"/><path d="M38,53 C50,48 62,47 80,46" fill="none" stroke="#444" stroke-width="0.9" opacity="0.5"/><path d="M20,18 C28,14 36,12 46,8" fill="none" stroke="#444" stroke-width="0.9" opacity="0.5"/><path d="M70,12 C76,18 82,22 88,30" fill="none" stroke="#444" stroke-width="0.9" opacity="0.5"/><path d="M12,34 C18,30 24,28 30,28" fill="none" stroke="#444" stroke-width="0.9" opacity="0.5"/></g><use href="#brainc" fill="none" stroke="#777" stroke-width="0.9"/></g><g transform="translate(95.7,1003.7) scale(0.7170,0.7243)"><g clip-path="url(#bcclip)"><rect x="-5" y="-5" width="110" height="80" fill="#f2f2f2"/><g filter="url(#blur2)"><ellipse cx="24" cy="9" rx="10.5" ry="10" fill="#f2a0a0"/><ellipse cx="40" cy="9" rx="10.5" ry="10" fill="#e8141e"/><ellipse cx="56" cy="9" rx="10.5" ry="10" fill="#a2caf2"/><ellipse cx="72" cy="9" rx="10.5" ry="10" fill="#a2caf2"/><ellipse cx="8" cy="26" rx="10.5" ry="10" fill="#e8141e"/><ellipse cx="24" cy="26" rx="10.5" ry="10" fill="#1c6fe0"/><ellipse cx="40" cy="26" rx="10.5" ry="10" fill="#e8141e"/><ellipse cx="56" cy="26" rx="10.5" ry="10" fill="#f2a0a0"/><ellipse cx="72" cy="26" rx="10.5" ry="10" fill="#0a3ea8"/><ellipse cx="88" cy="26" rx="10.5" ry="10" fill="#e8141e"/><ellipse cx="8" cy="43" rx="10.5" ry="10" fill="#e8141e"/><ellipse cx="24" cy="43" rx="10.5" ry="10" fill="#1c6fe0"/><ellipse cx="40" cy="43" rx="10.5" ry="10" fill="#f2a0a0"/><ellipse cx="56" cy="43" rx="10.5" ry="10" fill="#a2caf2"/><ellipse cx="72" cy="43" rx="10.5" ry="10" fill="#f2a0a0"/><ellipse cx="88" cy="43" rx="10.5" ry="10" fill="#a2caf2"/><ellipse cx="40" cy="60" rx="10.5" ry="10" fill="#f2a0a0"/><ellipse cx="56" cy="60" rx="10.5" ry="10" fill="#e8141e"/><ellipse cx="72" cy="60" rx="10.5" ry="10" fill="#e8141e"/></g><path d="M8,30 C14,20 24,12 38,8" fill="none" stroke="#fff" stroke-width="1.6" opacity="0.55"/><path d="M6,44 C10,34 18,26 30,22" fill="none" stroke="#fff" stroke-width="1.6" opacity="0.55"/><path d="M14,52 C18,44 26,38 36,36" fill="none" stroke="#fff" stroke-width="1.6" opacity="0.55"/><path d="M44,6 C42,16 38,26 34,34" fill="none" stroke="#fff" stroke-width="1.6" opacity="0.55"/><path d="M56,6 C54,16 50,26 46,34" fill="none" stroke="#fff" stroke-width="1.6" opacity="0.55"/><path d="M66,8 C70,16 74,22 80,24" fill="none" stroke="#fff" stroke-width="1.6" opacity="0.55"/><path d="M62,30 C70,30 80,34 90,42" fill="none" stroke="#fff" stroke-width="1.6" opacity="0.55"/><path d="M36,50 C48,46 62,44 82,44" fill="none" stroke="#fff" stroke-width="1.6" opacity="0.55"/><path d="M40,60 C52,56 66,54 84,52" fill="none" stroke="#fff" stroke-width="1.6" opacity="0.55"/><path d="M24,44 C34,38 46,37 60,30" fill="none" stroke="#444" stroke-width="0.9" opacity="0.5"/><path d="M58,2 C54,12 50,22 45,31" fill="none" stroke="#444" stroke-width="0.9" opacity="0.5"/><path d="M38,53 C50,48 62,47 80,46" fill="none" stroke="#444" stroke-width="0.9" opacity="0.5"/><path d="M20,18 C28,14 36,12 46,8" fill="none" stroke="#444" stroke-width="0.9" opacity="0.5"/><path d="M70,12 C76,18 82,22 88,30" fill="none" stroke="#444" stroke-width="0.9" opacity="0.5"/><path d="M12,34 C18,30 24,28 30,28" fill="none" stroke="#444" stroke-width="0.9" opacity="0.5"/></g><use href="#brainc" fill="none" stroke="#777" stroke-width="0.9"/></g><polyline points="82.2,864 84,879.8 88.5,885.4 93,891.1 99.8,897.8 106.5,902.3 111,911.3 115.5,920.3 120.1,931.6 126.8,938.4 133.6,945.1 140.3,951.9 147.1,958.6 156.1,967.6 165.1,975.5 176.4,982.3 187.6,987.9 201.1,992.4 210.2,999.2 219.2,1001.4 223.7,1005.9 228.2,1017.2 237.2,1020.6 246.2,1026.2 253,1035.2 262,1039.7 273.2,1045.4 284.5,1049.9 295.8,1053.2 304.8,1056.6 309.3,1061.1 320.5,1063.4 329.5,1067.9 336.3,1071.3 338.6,1082.5 341.9,1087 343.1,1096" fill="none" stroke="#eaa920" stroke-width="1.9" stroke-linejoin="round"/><polyline points="82.2,864 97.5,865.8 120.1,867.9 140.3,869.7 165.1,872.4 187.6,876 210.2,880.9 232.7,886.1 250.7,892.2 264.2,898.9 271,904.6 273.2,909.1 282.2,915.8 291.3,922.6 300.3,928.2 309.3,933.9 313.8,940.6 318.3,954.1 325,965.4 334.1,978.9 338.6,985.7 341.9,999.2 344.9,1012.7 345.3,1026.2 345.8,1048.7 346.4,1071.3 347.6,1096" fill="none" stroke="#eaa920" stroke-width="2" stroke-dasharray="8.2 7.8"/><path d="M81.2,852.3V1099.1M80.2,1098.1H349.3M81.2,1098.1H86.5M81.2,1049.1H86.5M81.2,1000.1H86.5M81.2,951.2H86.5M81.2,902.2H86.5M81.2,853.2H86.5M81.2,1098.1V1092.6M148,1098.1V1092.6M214.8,1098.1V1092.6M281.5,1098.1V1092.6M348.3,1098.1V1092.6" stroke="#000" stroke-width="2" fill="none"/><text x="76.3" y="1105.5" font-size="21" text-anchor="end">0</text><text x="76.3" y="1056.5" font-size="21" text-anchor="end">0.2</text><text x="76.3" y="1007.5" font-size="21" text-anchor="end">0.4</text><text x="76.3" y="958.6" font-size="21" text-anchor="end">0.6</text><text x="76.3" y="909.6" font-size="21" text-anchor="end">0.8</text><text x="76.3" y="860.6" font-size="21" text-anchor="end">1.0</text><text x="80" y="1123.7" font-size="21" text-anchor="middle">0</text><text x="148" y="1123.7" font-size="21" text-anchor="middle">25</text><text x="214.8" y="1123.7" font-size="21" text-anchor="middle">50</text><text x="281.5" y="1123.7" font-size="21" text-anchor="middle">75</text><text x="348.3" y="1123.7" font-size="21" text-anchor="middle">100</text><text x="220.7" y="1148.3" font-size="21" text-anchor="middle">Percentage of modes removed</text><text x="88.8" y="843.3" font-size="21">Language</text><text x="296.8" y="837.9" font-size="21">Data</text><line x1="147.5" y1="869.7" x2="175.7" y2="909.7" stroke="#000" stroke-width="2.1" marker-end="url(#ah)"/><circle cx="147.5" cy="869.7" r="7.7" fill="#000"/><line x1="147.5" y1="958.6" x2="131.3" y2="1004.8" stroke="#000" stroke-width="2.1" marker-end="url(#ah)"/><circle cx="147.5" cy="958.6" r="7.7" fill="#000"/>
<line x1="495.9" y1="857.2" x2="495.9" y2="1098.1" stroke="#333" stroke-width="1.9" stroke-dasharray="3.3 9.1"/><g transform="translate(623.6,845) scale(0.7320,0.7286)"><g clip-path="url(#bcclip)"><rect x="-5" y="-5" width="110" height="80" fill="#f2f2f2"/><g filter="url(#blur2)"><ellipse cx="24" cy="9" rx="10.5" ry="10" fill="#a2caf2"/><ellipse cx="56" cy="9" rx="10.5" ry="10" fill="#a2caf2"/><ellipse cx="72" cy="9" rx="10.5" ry="10" fill="#a2caf2"/><ellipse cx="8" cy="26" rx="10.5" ry="10" fill="#a2caf2"/><ellipse cx="24" cy="26" rx="10.5" ry="10" fill="#f2a0a0"/><ellipse cx="56" cy="26" rx="10.5" ry="10" fill="#1c6fe0"/><ellipse cx="72" cy="26" rx="10.5" ry="10" fill="#f2a0a0"/><ellipse cx="88" cy="26" rx="10.5" ry="10" fill="#a2caf2"/><ellipse cx="24" cy="43" rx="10.5" ry="10" fill="#f2a0a0"/><ellipse cx="40" cy="43" rx="10.5" ry="10" fill="#a2caf2"/><ellipse cx="56" cy="43" rx="10.5" ry="10" fill="#a2caf2"/><ellipse cx="72" cy="43" rx="10.5" ry="10" fill="#0a3ea8"/><ellipse cx="88" cy="43" rx="10.5" ry="10" fill="#e8141e"/><ellipse cx="40" cy="60" rx="10.5" ry="10" fill="#f2a0a0"/><ellipse cx="56" cy="60" rx="10.5" ry="10" fill="#f2a0a0"/><ellipse cx="72" cy="60" rx="10.5" ry="10" fill="#e8141e"/></g><path d="M8,30 C14,20 24,12 38,8" fill="none" stroke="#fff" stroke-width="1.6" opacity="0.55"/><path d="M6,44 C10,34 18,26 30,22" fill="none" stroke="#fff" stroke-width="1.6" opacity="0.55"/><path d="M14,52 C18,44 26,38 36,36" fill="none" stroke="#fff" stroke-width="1.6" opacity="0.55"/><path d="M44,6 C42,16 38,26 34,34" fill="none" stroke="#fff" stroke-width="1.6" opacity="0.55"/><path d="M56,6 C54,16 50,26 46,34" fill="none" stroke="#fff" stroke-width="1.6" opacity="0.55"/><path d="M66,8 C70,16 74,22 80,24" fill="none" stroke="#fff" stroke-width="1.6" opacity="0.55"/><path d="M62,30 C70,30 80,34 90,42" fill="none" stroke="#fff" stroke-width="1.6" opacity="0.55"/><path d="M36,50 C48,46 62,44 82,44" fill="none" stroke="#fff" stroke-width="1.6" opacity="0.55"/><path d="M40,60 C52,56 66,54 84,52" fill="none" stroke="#fff" stroke-width="1.6" opacity="0.55"/><path d="M24,44 C34,38 46,37 60,30" fill="none" stroke="#444" stroke-width="0.9" opacity="0.5"/><path d="M58,2 C54,12 50,22 45,31" fill="none" stroke="#444" stroke-width="0.9" opacity="0.5"/><path d="M38,53 C50,48 62,47 80,46" fill="none" stroke="#444" stroke-width="0.9" opacity="0.5"/><path d="M20,18 C28,14 36,12 46,8" fill="none" stroke="#444" stroke-width="0.9" opacity="0.5"/><path d="M70,12 C76,18 82,22 88,30" fill="none" stroke="#444" stroke-width="0.9" opacity="0.5"/><path d="M12,34 C18,30 24,28 30,28" fill="none" stroke="#444" stroke-width="0.9" opacity="0.5"/></g><use href="#brainc" fill="none" stroke="#777" stroke-width="0.9"/></g><g transform="translate(509.9,915.8) scale(0.7200,0.7143)"><g clip-path="url(#bcclip)"><rect x="-5" y="-5" width="110" height="80" fill="#f2f2f2"/><g filter="url(#blur2)"><ellipse cx="24" cy="9" rx="10.5" ry="10" fill="#a2caf2"/><ellipse cx="56" cy="9" rx="10.5" ry="10" fill="#a2caf2"/><ellipse cx="72" cy="9" rx="10.5" ry="10" fill="#1c6fe0"/><ellipse cx="8" cy="26" rx="10.5" ry="10" fill="#a2caf2"/><ellipse cx="24" cy="26" rx="10.5" ry="10" fill="#f2a0a0"/><ellipse cx="40" cy="26" rx="10.5" ry="10" fill="#1c6fe0"/><ellipse cx="56" cy="26" rx="10.5" ry="10" fill="#1c6fe0"/><ellipse cx="72" cy="26" rx="10.5" ry="10" fill="#f2a0a0"/><ellipse cx="88" cy="26" rx="10.5" ry="10" fill="#a2caf2"/><ellipse cx="8" cy="43" rx="10.5" ry="10" fill="#a2caf2"/><ellipse cx="24" cy="43" rx="10.5" ry="10" fill="#f2a0a0"/><ellipse cx="40" cy="43" rx="10.5" ry="10" fill="#a2caf2"/><ellipse cx="56" cy="43" rx="10.5" ry="10" fill="#f2a0a0"/><ellipse cx="72" cy="43" rx="10.5" ry="10" fill="#0a3ea8"/><ellipse cx="88" cy="43" rx="10.5" ry="10" fill="#e8141e"/><ellipse cx="40" cy="60" rx="10.5" ry="10" fill="#f2a0a0"/><ellipse cx="56" cy="60" rx="10.5" ry="10" fill="#f2a0a0"/><ellipse cx="72" cy="60" rx="10.5" ry="10" fill="#e8141e"/></g><path d="M8,30 C14,20 24,12 38,8" fill="none" stroke="#fff" stroke-width="1.6" opacity="0.55"/><path d="M6,44 C10,34 18,26 30,22" fill="none" stroke="#fff" stroke-width="1.6" opacity="0.55"/><path d="M14,52 C18,44 26,38 36,36" fill="none" stroke="#fff" stroke-width="1.6" opacity="0.55"/><path d="M44,6 C42,16 38,26 34,34" fill="none" stroke="#fff" stroke-width="1.6" opacity="0.55"/><path d="M56,6 C54,16 50,26 46,34" fill="none" stroke="#fff" stroke-width="1.6" opacity="0.55"/><path d="M66,8 C70,16 74,22 80,24" fill="none" stroke="#fff" stroke-width="1.6" opacity="0.55"/><path d="M62,30 C70,30 80,34 90,42" fill="none" stroke="#fff" stroke-width="1.6" opacity="0.55"/><path d="M36,50 C48,46 62,44 82,44" fill="none" stroke="#fff" stroke-width="1.6" opacity="0.55"/><path d="M40,60 C52,56 66,54 84,52" fill="none" stroke="#fff" stroke-width="1.6" opacity="0.55"/><path d="M24,44 C34,38 46,37 60,30" fill="none" stroke="#444" stroke-width="0.9" opacity="0.5"/><path d="M58,2 C54,12 50,22 45,31" fill="none" stroke="#444" stroke-width="0.9" opacity="0.5"/><path d="M38,53 C50,48 62,47 80,46" fill="none" stroke="#444" stroke-width="0.9" opacity="0.5"/><path d="M20,18 C28,14 36,12 46,8" fill="none" stroke="#444" stroke-width="0.9" opacity="0.5"/><path d="M70,12 C76,18 82,22 88,30" fill="none" stroke="#444" stroke-width="0.9" opacity="0.5"/><path d="M12,34 C18,30 24,28 30,28" fill="none" stroke="#444" stroke-width="0.9" opacity="0.5"/></g><use href="#brainc" fill="none" stroke="#777" stroke-width="0.9"/></g><g transform="translate(443.4,1006) scale(0.7050,0.7071)"><g clip-path="url(#bcclip)"><rect x="-5" y="-5" width="110" height="80" fill="#f2f2f2"/><g filter="url(#blur2)"><ellipse cx="24" cy="9" rx="10.5" ry="10" fill="#a2caf2"/><ellipse cx="40" cy="9" rx="10.5" ry="10" fill="#f2a0a0"/><ellipse cx="56" cy="9" rx="10.5" ry="10" fill="#f2a0a0"/><ellipse cx="72" cy="9" rx="10.5" ry="10" fill="#a2caf2"/><ellipse cx="24" cy="26" rx="10.5" ry="10" fill="#a2caf2"/><ellipse cx="40" cy="26" rx="10.5" ry="10" fill="#f2a0a0"/><ellipse cx="56" cy="26" rx="10.5" ry="10" fill="#a2caf2"/><ellipse cx="72" cy="26" rx="10.5" ry="10" fill="#f2a0a0"/><ellipse cx="88" cy="26" rx="10.5" ry="10" fill="#a2caf2"/><ellipse cx="8" cy="43" rx="10.5" ry="10" fill="#a2caf2"/><ellipse cx="24" cy="43" rx="10.5" ry="10" fill="#f2a0a0"/><ellipse cx="40" cy="43" rx="10.5" ry="10" fill="#a2caf2"/><ellipse cx="72" cy="43" rx="10.5" ry="10" fill="#0a3ea8"/><ellipse cx="88" cy="43" rx="10.5" ry="10" fill="#1c6fe0"/><ellipse cx="40" cy="60" rx="10.5" ry="10" fill="#f2a0a0"/><ellipse cx="56" cy="60" rx="10.5" ry="10" fill="#a2caf2"/><ellipse cx="72" cy="60" rx="10.5" ry="10" fill="#e8141e"/></g><path d="M8,30 C14,20 24,12 38,8" fill="none" stroke="#fff" stroke-width="1.6" opacity="0.55"/><path d="M6,44 C10,34 18,26 30,22" fill="none" stroke="#fff" stroke-width="1.6" opacity="0.55"/><path d="M14,52 C18,44 26,38 36,36" fill="none" stroke="#fff" stroke-width="1.6" opacity="0.55"/><path d="M44,6 C42,16 38,26 34,34" fill="none" stroke="#fff" stroke-width="1.6" opacity="0.55"/><path d="M56,6 C54,16 50,26 46,34" fill="none" stroke="#fff" stroke-width="1.6" opacity="0.55"/><path d="M66,8 C70,16 74,22 80,24" fill="none" stroke="#fff" stroke-width="1.6" opacity="0.55"/><path d="M62,30 C70,30 80,34 90,42" fill="none" stroke="#fff" stroke-width="1.6" opacity="0.55"/><path d="M36,50 C48,46 62,44 82,44" fill="none" stroke="#fff" stroke-width="1.6" opacity="0.55"/><path d="M40,60 C52,56 66,54 84,52" fill="none" stroke="#fff" stroke-width="1.6" opacity="0.55"/><path d="M24,44 C34,38 46,37 60,30" fill="none" stroke="#444" stroke-width="0.9" opacity="0.5"/><path d="M58,2 C54,12 50,22 45,31" fill="none" stroke="#444" stroke-width="0.9" opacity="0.5"/><path d="M38,53 C50,48 62,47 80,46" fill="none" stroke="#444" stroke-width="0.9" opacity="0.5"/><path d="M20,18 C28,14 36,12 46,8" fill="none" stroke="#444" stroke-width="0.9" opacity="0.5"/><path d="M70,12 C76,18 82,22 88,30" fill="none" stroke="#444" stroke-width="0.9" opacity="0.5"/><path d="M12,34 C18,30 24,28 30,28" fill="none" stroke="#444" stroke-width="0.9" opacity="0.5"/></g><use href="#brainc" fill="none" stroke="#777" stroke-width="0.9"/></g><polyline points="430.3,874.2 433.3,886.5 437.8,902.3 442.3,913.6 444.5,924.8 449,929.3 455.8,935 462.5,939.5 467.1,945.1 469.3,949.6 476.1,951.9 485.1,956.4 494.1,960.9 498.6,963.1 503.1,971 512.1,973.9 523.4,977.8 532.4,981.2 543.6,985.7 557.2,987.9 570.7,989 581.9,989 593.2,994.7 597.7,999.2 609,1001.4 620.2,1004.8 629.2,1012.7 638.3,1013.8 647.3,1019.5 656.3,1026.2 664.2,1026.2 667.5,1035.2 672,1039.7 681.1,1045.4 684.4,1055.5 687.8,1064.5 691.2,1070.1 694.6,1070.1 695.7,1082.5 696.4,1096" fill="none" stroke="#a8562a" stroke-width="1.9" stroke-linejoin="round"/><polyline points="430.3,874.2 444.5,876.4 467.1,879.8 496.3,884.3 512.1,887.7 530.1,892.2 548.1,897.8 566.2,903.4 584.2,907.9 602.2,912.5 615.7,918.1 621.4,923.7 629.2,930.5 642.8,937.2 656.3,945.1 669.8,957.5 676.5,963.1 683.3,974.4 687.8,994.7 690.1,1008.2 692.3,1026.2 693.4,1048.7 694.6,1071.3 696.4,1096" fill="none" stroke="#a8562a" stroke-width="2" stroke-dasharray="8.2 7.8"/><path d="M429.1,852.3V1099.1M428.1,1098.1H697.2M429.1,1098.1H434.4M429.1,1049.1H434.4M429.1,1000.1H434.4M429.1,951.2H434.4M429.1,902.2H434.4M429.1,853.2H434.4M429.1,1098.1V1092.6M495.9,1098.1V1092.6M562.7,1098.1V1092.6M629.4,1098.1V1092.6M696.2,1098.1V1092.6" stroke="#000" stroke-width="2" fill="none"/><text x="423.4" y="1105.5" font-size="21" text-anchor="end">0</text><text x="423.4" y="1056.5" font-size="21" text-anchor="end">0.2</text><text x="423.4" y="1007.5" font-size="21" text-anchor="end">0.4</text><text x="423.4" y="958.6" font-size="21" text-anchor="end">0.6</text><text x="423.4" y="909.6" font-size="21" text-anchor="end">0.8</text><text x="423.4" y="860.6" font-size="21" text-anchor="end">1.0</text><text x="427.9" y="1123.7" font-size="21" text-anchor="middle">0</text><text x="495.9" y="1123.7" font-size="21" text-anchor="middle">25</text><text x="562.7" y="1123.7" font-size="21" text-anchor="middle">50</text><text x="629.4" y="1123.7" font-size="21" text-anchor="middle">75</text><text x="696.2" y="1123.7" font-size="21" text-anchor="middle">100</text><text x="569" y="1148.3" font-size="21" text-anchor="middle">Percentage of modes removed</text><text x="442" y="843.3" font-size="21">Emotion</text><text x="644.4" y="837.9" font-size="21">Data</text><line x1="496.3" y1="884.3" x2="523.4" y2="923.7" stroke="#000" stroke-width="2.1" marker-end="url(#ah)"/><circle cx="496.3" cy="884.3" r="7.7" fill="#000"/><line x1="496.3" y1="960.9" x2="478.3" y2="1007.7" stroke="#000" stroke-width="2.1" marker-end="url(#ah)"/><circle cx="496.3" cy="960.9" r="7.7" fill="#000"/>
<line x1="843.4" y1="857.2" x2="843.4" y2="1098.1" stroke="#333" stroke-width="1.9" stroke-dasharray="3.3 9.1"/><g transform="translate(971.9,844) scale(0.7140,0.7429)"><g clip-path="url(#bcclip)"><rect x="-5" y="-5" width="110" height="80" fill="#f2f2f2"/><g filter="url(#blur2)"><ellipse cx="24" cy="9" rx="10.5" ry="10" fill="#a2caf2"/><ellipse cx="40" cy="9" rx="10.5" ry="10" fill="#e8141e"/><ellipse cx="56" cy="9" rx="10.5" ry="10" fill="#e8141e"/><ellipse cx="72" cy="9" rx="10.5" ry="10" fill="#f2a0a0"/><ellipse cx="8" cy="26" rx="10.5" ry="10" fill="#f2a0a0"/><ellipse cx="24" cy="26" rx="10.5" ry="10" fill="#1c6fe0"/><ellipse cx="40" cy="26" rx="10.5" ry="10" fill="#e8141e"/><ellipse cx="56" cy="26" rx="10.5" ry="10" fill="#e8141e"/><ellipse cx="72" cy="26" rx="10.5" ry="10" fill="#a2caf2"/><ellipse cx="88" cy="26" rx="10.5" ry="10" fill="#e8141e"/><ellipse cx="8" cy="43" rx="10.5" ry="10" fill="#a2caf2"/><ellipse cx="24" cy="43" rx="10.5" ry="10" fill="#a2caf2"/><ellipse cx="40" cy="43" rx="10.5" ry="10" fill="#e8141e"/><ellipse cx="56" cy="43" rx="10.5" ry="10" fill="#e8141e"/><ellipse cx="72" cy="43" rx="10.5" ry="10" fill="#e8141e"/><ellipse cx="88" cy="43" rx="10.5" ry="10" fill="#a2caf2"/><ellipse cx="40" cy="60" rx="10.5" ry="10" fill="#f2a0a0"/><ellipse cx="56" cy="60" rx="10.5" ry="10" fill="#e8141e"/><ellipse cx="72" cy="60" rx="10.5" ry="10" fill="#f2a0a0"/></g><path d="M8,30 C14,20 24,12 38,8" fill="none" stroke="#fff" stroke-width="1.6" opacity="0.55"/><path d="M6,44 C10,34 18,26 30,22" fill="none" stroke="#fff" stroke-width="1.6" opacity="0.55"/><path d="M14,52 C18,44 26,38 36,36" fill="none" stroke="#fff" stroke-width="1.6" opacity="0.55"/><path d="M44,6 C42,16 38,26 34,34" fill="none" stroke="#fff" stroke-width="1.6" opacity="0.55"/><path d="M56,6 C54,16 50,26 46,34" fill="none" stroke="#fff" stroke-width="1.6" opacity="0.55"/><path d="M66,8 C70,16 74,22 80,24" fill="none" stroke="#fff" stroke-width="1.6" opacity="0.55"/><path d="M62,30 C70,30 80,34 90,42" fill="none" stroke="#fff" stroke-width="1.6" opacity="0.55"/><path d="M36,50 C48,46 62,44 82,44" fill="none" stroke="#fff" stroke-width="1.6" opacity="0.55"/><path d="M40,60 C52,56 66,54 84,52" fill="none" stroke="#fff" stroke-width="1.6" opacity="0.55"/><path d="M24,44 C34,38 46,37 60,30" fill="none" stroke="#444" stroke-width="0.9" opacity="0.5"/><path d="M58,2 C54,12 50,22 45,31" fill="none" stroke="#444" stroke-width="0.9" opacity="0.5"/><path d="M38,53 C50,48 62,47 80,46" fill="none" stroke="#444" stroke-width="0.9" opacity="0.5"/><path d="M20,18 C28,14 36,12 46,8" fill="none" stroke="#444" stroke-width="0.9" opacity="0.5"/><path d="M70,12 C76,18 82,22 88,30" fill="none" stroke="#444" stroke-width="0.9" opacity="0.5"/><path d="M12,34 C18,30 24,28 30,28" fill="none" stroke="#444" stroke-width="0.9" opacity="0.5"/></g><use href="#brainc" fill="none" stroke="#777" stroke-width="0.9"/></g><g transform="translate(857,911.3) scale(0.7140,0.7243)"><g clip-path="url(#bcclip)"><rect x="-5" y="-5" width="110" height="80" fill="#f2f2f2"/><g filter="url(#blur2)"><ellipse cx="24" cy="9" rx="10.5" ry="10" fill="#a2caf2"/><ellipse cx="40" cy="9" rx="10.5" ry="10" fill="#e8141e"/><ellipse cx="56" cy="9" rx="10.5" ry="10" fill="#e8141e"/><ellipse cx="72" cy="9" rx="10.5" ry="10" fill="#e8141e"/><ellipse cx="8" cy="26" rx="10.5" ry="10" fill="#f2a0a0"/><ellipse cx="24" cy="26" rx="10.5" ry="10" fill="#1c6fe0"/><ellipse cx="40" cy="26" rx="10.5" ry="10" fill="#e8141e"/><ellipse cx="56" cy="26" rx="10.5" ry="10" fill="#e8141e"/><ellipse cx="72" cy="26" rx="10.5" ry="10" fill="#a2caf2"/><ellipse cx="88" cy="26" rx="10.5" ry="10" fill="#a2caf2"/><ellipse cx="8" cy="43" rx="10.5" ry="10" fill="#1c6fe0"/><ellipse cx="24" cy="43" rx="10.5" ry="10" fill="#a2caf2"/><ellipse cx="40" cy="43" rx="10.5" ry="10" fill="#e8141e"/><ellipse cx="56" cy="43" rx="10.5" ry="10" fill="#e8141e"/><ellipse cx="72" cy="43" rx="10.5" ry="10" fill="#e8141e"/><ellipse cx="88" cy="43" rx="10.5" ry="10" fill="#1c6fe0"/><ellipse cx="40" cy="60" rx="10.5" ry="10" fill="#f2a0a0"/><ellipse cx="56" cy="60" rx="10.5" ry="10" fill="#a2caf2"/><ellipse cx="72" cy="60" rx="10.5" ry="10" fill="#e8141e"/></g><path d="M8,30 C14,20 24,12 38,8" fill="none" stroke="#fff" stroke-width="1.6" opacity="0.55"/><path d="M6,44 C10,34 18,26 30,22" fill="none" stroke="#fff" stroke-width="1.6" opacity="0.55"/><path d="M14,52 C18,44 26,38 36,36" fill="none" stroke="#fff" stroke-width="1.6" opacity="0.55"/><path d="M44,6 C42,16 38,26 34,34" fill="none" stroke="#fff" stroke-width="1.6" opacity="0.55"/><path d="M56,6 C54,16 50,26 46,34" fill="none" stroke="#fff" stroke-width="1.6" opacity="0.55"/><path d="M66,8 C70,16 74,22 80,24" fill="none" stroke="#fff" stroke-width="1.6" opacity="0.55"/><path d="M62,30 C70,30 80,34 90,42" fill="none" stroke="#fff" stroke-width="1.6" opacity="0.55"/><path d="M36,50 C48,46 62,44 82,44" fill="none" stroke="#fff" stroke-width="1.6" opacity="0.55"/><path d="M40,60 C52,56 66,54 84,52" fill="none" stroke="#fff" stroke-width="1.6" opacity="0.55"/><path d="M24,44 C34,38 46,37 60,30" fill="none" stroke="#444" stroke-width="0.9" opacity="0.5"/><path d="M58,2 C54,12 50,22 45,31" fill="none" stroke="#444" stroke-width="0.9" opacity="0.5"/><path d="M38,53 C50,48 62,47 80,46" fill="none" stroke="#444" stroke-width="0.9" opacity="0.5"/><path d="M20,18 C28,14 36,12 46,8" fill="none" stroke="#444" stroke-width="0.9" opacity="0.5"/><path d="M70,12 C76,18 82,22 88,30" fill="none" stroke="#444" stroke-width="0.9" opacity="0.5"/><path d="M12,34 C18,30 24,28 30,28" fill="none" stroke="#444" stroke-width="0.9" opacity="0.5"/></g><use href="#brainc" fill="none" stroke="#777" stroke-width="0.9"/></g><g transform="translate(790.5,1012.7) scale(0.7170,0.7086)"><g clip-path="url(#bcclip)"><rect x="-5" y="-5" width="110" height="80" fill="#f2f2f2"/><g filter="url(#blur2)"><ellipse cx="24" cy="9" rx="10.5" ry="10" fill="#f2a0a0"/><ellipse cx="40" cy="9" rx="10.5" ry="10" fill="#f2a0a0"/><ellipse cx="56" cy="9" rx="10.5" ry="10" fill="#a2caf2"/><ellipse cx="72" cy="9" rx="10.5" ry="10" fill="#f2a0a0"/><ellipse cx="8" cy="26" rx="10.5" ry="10" fill="#f2a0a0"/><ellipse cx="24" cy="26" rx="10.5" ry="10" fill="#1c6fe0"/><ellipse cx="40" cy="26" rx="10.5" ry="10" fill="#f2a0a0"/><ellipse cx="56" cy="26" rx="10.5" ry="10" fill="#f2a0a0"/><ellipse cx="72" cy="26" rx="10.5" ry="10" fill="#a2caf2"/><ellipse cx="88" cy="26" rx="10.5" ry="10" fill="#e8141e"/><ellipse cx="8" cy="43" rx="10.5" ry="10" fill="#1c6fe0"/><ellipse cx="24" cy="43" rx="10.5" ry="10" fill="#a2caf2"/><ellipse cx="40" cy="43" rx="10.5" ry="10" fill="#f2a0a0"/><ellipse cx="72" cy="43" rx="10.5" ry="10" fill="#f2a0a0"/><ellipse cx="88" cy="43" rx="10.5" ry="10" fill="#0a3ea8"/><ellipse cx="40" cy="60" rx="10.5" ry="10" fill="#a2caf2"/><ellipse cx="56" cy="60" rx="10.5" ry="10" fill="#f2a0a0"/><ellipse cx="72" cy="60" rx="10.5" ry="10" fill="#a2caf2"/></g><path d="M8,30 C14,20 24,12 38,8" fill="none" stroke="#fff" stroke-width="1.6" opacity="0.55"/><path d="M6,44 C10,34 18,26 30,22" fill="none" stroke="#fff" stroke-width="1.6" opacity="0.55"/><path d="M14,52 C18,44 26,38 36,36" fill="none" stroke="#fff" stroke-width="1.6" opacity="0.55"/><path d="M44,6 C42,16 38,26 34,34" fill="none" stroke="#fff" stroke-width="1.6" opacity="0.55"/><path d="M56,6 C54,16 50,26 46,34" fill="none" stroke="#fff" stroke-width="1.6" opacity="0.55"/><path d="M66,8 C70,16 74,22 80,24" fill="none" stroke="#fff" stroke-width="1.6" opacity="0.55"/><path d="M62,30 C70,30 80,34 90,42" fill="none" stroke="#fff" stroke-width="1.6" opacity="0.55"/><path d="M36,50 C48,46 62,44 82,44" fill="none" stroke="#fff" stroke-width="1.6" opacity="0.55"/><path d="M40,60 C52,56 66,54 84,52" fill="none" stroke="#fff" stroke-width="1.6" opacity="0.55"/><path d="M24,44 C34,38 46,37 60,30" fill="none" stroke="#444" stroke-width="0.9" opacity="0.5"/><path d="M58,2 C54,12 50,22 45,31" fill="none" stroke="#444" stroke-width="0.9" opacity="0.5"/><path d="M38,53 C50,48 62,47 80,46" fill="none" stroke="#444" stroke-width="0.9" opacity="0.5"/><path d="M20,18 C28,14 36,12 46,8" fill="none" stroke="#444" stroke-width="0.9" opacity="0.5"/><path d="M70,12 C76,18 82,22 88,30" fill="none" stroke="#444" stroke-width="0.9" opacity="0.5"/><path d="M12,34 C18,30 24,28 30,28" fill="none" stroke="#444" stroke-width="0.9" opacity="0.5"/></g><use href="#brainc" fill="none" stroke="#777" stroke-width="0.9"/></g><polyline points="777,873.5 780.4,886.5 784.9,900.1 789.4,911.3 791.7,922.6 797.3,930.5 804,936.1 813.1,942.9 819.8,948.5 826.6,954.1 835.6,960.9 843,967.6 851.3,975.5 862.6,982.3 873.9,990.2 885.1,999.2 894.1,1001.4 907.7,1007.1 921.2,1012.7 930.2,1017.2 943.7,1021.7 955,1027.3 966.2,1031.8 975.2,1036.3 984.3,1043.1 993.3,1046.5 1004.5,1052.1 1013.5,1056.6 1020.3,1063.4 1027.1,1070.1 1033.8,1075.8 1040.6,1080.3 1041.7,1089.3 1042.4,1096" fill="none" stroke="#f07cc4" stroke-width="1.9" stroke-linejoin="round"/><polyline points="777,873.5 790.5,874.6 813.1,877.5 843,880.9 862.6,883.2 880.6,886.1 898.7,889.9 916.7,895.6 934.7,899.6 948.2,902.3 961.7,909.1 975.2,917 984.3,922.6 997.8,929.3 1009,936.1 1015.8,945.1 1020.3,951.9 1027.1,967.6 1031.6,981.2 1034.9,996.9 1037.2,1014.9 1039.4,1037.5 1040.6,1060 1041.7,1082.5 1042.4,1096" fill="none" stroke="#f07cc4" stroke-width="2" stroke-dasharray="8.2 7.8"/><line x1="784.9" y1="874.4" x2="791.7" y2="874.8" stroke="#000" stroke-width="2"/><line x1="884" y1="886.3" x2="890.8" y2="887.2" stroke="#000" stroke-width="2"/><line x1="932.4" y1="899.2" x2="939.2" y2="900.3" stroke="#000" stroke-width="2"/><line x1="977.5" y1="918.1" x2="983.1" y2="921" stroke="#000" stroke-width="2"/><line x1="1014.7" y1="947.4" x2="1018.5" y2="951.9" stroke="#000" stroke-width="2"/><line x1="1034.3" y1="993.5" x2="1035.6" y2="998.1" stroke="#000" stroke-width="2"/><line x1="1039.7" y1="1042" x2="1040.1" y2="1047.6" stroke="#000" stroke-width="2"/><path d="M776.6,852.3V1099.1M775.6,1098.1H1044.7M776.6,1098.1H781.9M776.6,1049.1H781.9M776.6,1000.1H781.9M776.6,951.2H781.9M776.6,902.2H781.9M776.6,853.2H781.9M776.6,1098.1V1092.6M843.4,1098.1V1092.6M910.2,1098.1V1092.6M976.9,1098.1V1092.6M1043.7,1098.1V1092.6" stroke="#000" stroke-width="2" fill="none"/><text x="769.3" y="1105.5" font-size="21" text-anchor="end">0</text><text x="769.3" y="1056.5" font-size="21" text-anchor="end">0.2</text><text x="769.3" y="1007.5" font-size="21" text-anchor="end">0.4</text><text x="769.3" y="958.6" font-size="21" text-anchor="end">0.6</text><text x="769.3" y="909.6" font-size="21" text-anchor="end">0.8</text><text x="769.3" y="860.6" font-size="21" text-anchor="end">1.0</text><text x="775.4" y="1123.7" font-size="21" text-anchor="middle">0</text><text x="843.4" y="1123.7" font-size="21" text-anchor="middle">25</text><text x="910.2" y="1123.7" font-size="21" text-anchor="middle">50</text><text x="976.9" y="1123.7" font-size="21" text-anchor="middle">75</text><text x="1043.7" y="1123.7" font-size="21" text-anchor="middle">100</text><text x="916.1" y="1148.3" font-size="21" text-anchor="middle">Percentage of modes removed</text><text x="783.7" y="843.3" font-size="21">Relational</text><text x="991.5" y="837.9" font-size="21">Data</text><line x1="843" y1="880.9" x2="870.5" y2="919.9" stroke="#000" stroke-width="2.1" marker-end="url(#ah)"/><circle cx="843" cy="880.9" r="7.7" fill="#000"/><line x1="843" y1="968.3" x2="825.4" y2="1014.9" stroke="#000" stroke-width="2.1" marker-end="url(#ah)"/><circle cx="843" cy="968.3" r="7.7" fill="#000"/>
<text transform="translate(29.9,749.8) rotate(-90)" font-size="21">Reconstruction accuracy</text>
<text transform="translate(29.9,1096.2) rotate(-90)" font-size="21">Reconstruction accuracy</text>
<line x1="1110.5" y1="941.7" x2="1151.1" y2="941.7" stroke="#000" stroke-width="2.2"/>
<line x1="1110.5" y1="984.4" x2="1122.3" y2="984.4" stroke="#000" stroke-width="2.2"/>
<line x1="1139.2" y1="984.4" x2="1151.1" y2="984.4" stroke="#000" stroke-width="2.2"/>
<text x="1165" y="936" font-size="21">Removal of top long-</text>
<text x="1165" y="955.9" font-size="21">wavelength modes</text>
<text x="1165" y="987.8" font-size="21">Removal of top short-</text>
<text x="1165" y="1007.2" font-size="21">wavelength modes</text>
</svg></body></html>
